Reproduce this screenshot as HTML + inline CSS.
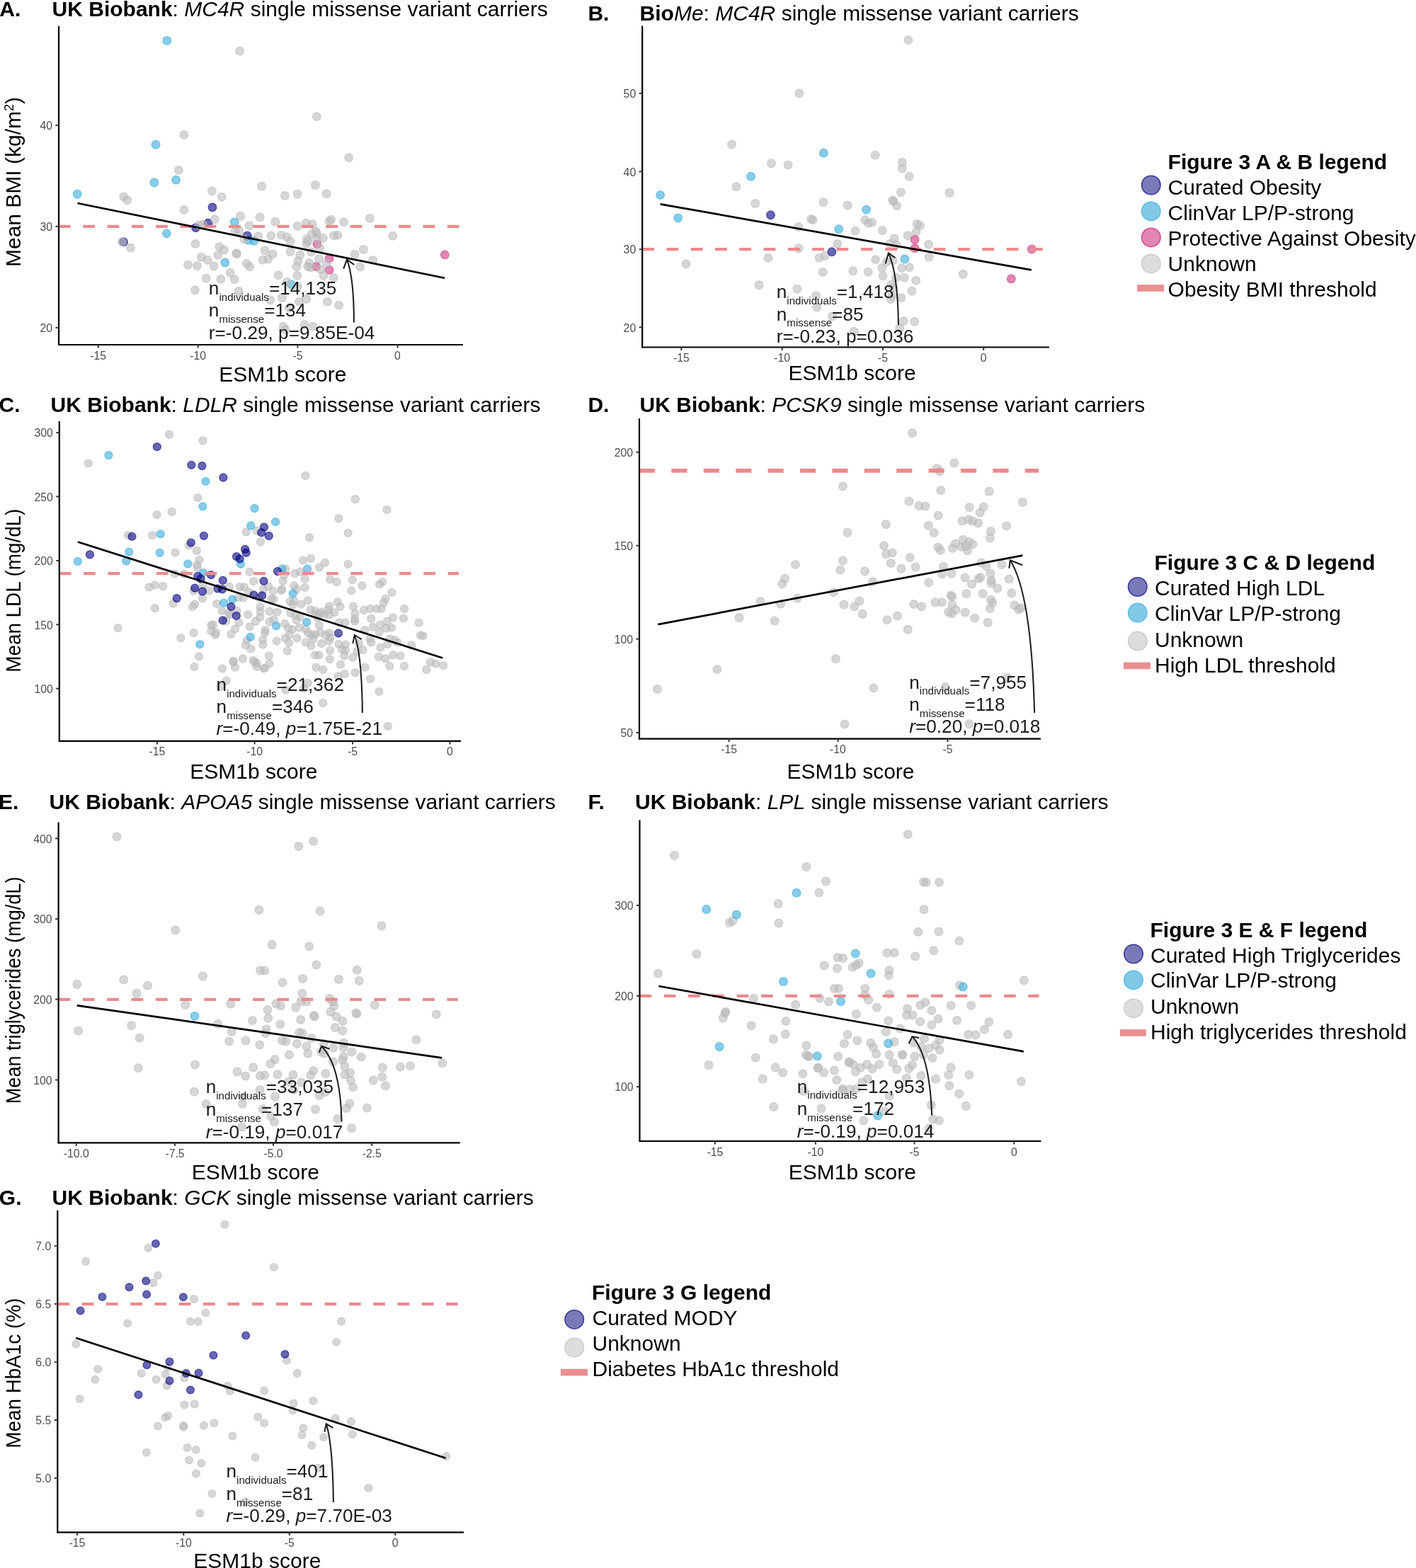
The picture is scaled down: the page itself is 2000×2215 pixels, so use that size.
<!DOCTYPE html>
<html><head><meta charset="utf-8"><title>Figure 3</title>
<style>
html,body{margin:0;padding:0;background:#fff;}
svg{display:block;}
text{font-family:'Liberation Sans', Arial, Helvetica, sans-serif;}
.u{fill:rgba(187,187,187,0.6);stroke:rgba(187,187,187,0.6);stroke-width:1.2px}
.c{fill:rgba(55,172,220,0.6);stroke:rgba(55,172,220,0.6);stroke-width:1.2px}
.n{fill:rgba(0,0,128,0.6);stroke:rgba(0,0,128,0.6);stroke-width:1.2px}
.p{fill:rgba(207,53,130,0.6);stroke:rgba(207,53,130,0.6);stroke-width:1.2px}
</style></head><body>
<svg width="2000" height="2215" viewBox="0 0 2000 2215">
<rect width="2000" height="2215" fill="#fff"/>
<text x="-0.7" y="22.6" font-size="30" font-weight="bold">A.</text>
<text x="73.6" y="22.6" font-size="30"><tspan font-weight="bold">UK Biobank</tspan>: <tspan font-style="italic">MC4R</tspan> single missense variant carriers</text>
<circle cx="628.3" cy="359.9" r="5.85" class="p"/>
<circle cx="447.9" cy="344.9" r="5.85" class="p"/>
<circle cx="465.1" cy="365.2" r="5.85" class="p"/>
<circle cx="446.6" cy="376.6" r="5.85" class="p"/>
<circle cx="465.1" cy="381.4" r="5.85" class="p"/>
<circle cx="235.8" cy="57.4" r="5.85" class="c"/>
<circle cx="220.1" cy="204.3" r="5.85" class="c"/>
<circle cx="217.8" cy="257.9" r="5.85" class="c"/>
<circle cx="248.6" cy="254.1" r="5.85" class="c"/>
<circle cx="109.2" cy="274.1" r="5.85" class="c"/>
<circle cx="235.4" cy="329.8" r="5.85" class="c"/>
<circle cx="331.4" cy="313.6" r="5.85" class="c"/>
<circle cx="351.1" cy="339.4" r="5.85" class="c"/>
<circle cx="358.8" cy="340.3" r="5.85" class="c"/>
<circle cx="317.8" cy="370.9" r="5.85" class="c"/>
<circle cx="411.4" cy="401.6" r="5.85" class="c"/>
<circle cx="300.0" cy="292.9" r="5.85" class="n"/>
<circle cx="294.0" cy="315.2" r="5.85" class="n"/>
<circle cx="276.5" cy="321.6" r="5.85" class="n"/>
<circle cx="174.5" cy="341.7" r="5.85" class="n"/>
<circle cx="349.2" cy="333.0" r="5.85" class="n"/>
<circle cx="338.5" cy="72.2" r="5.85" class="u"/>
<circle cx="259.8" cy="190.4" r="5.85" class="u"/>
<circle cx="252.3" cy="240.4" r="5.85" class="u"/>
<circle cx="174.7" cy="278.0" r="5.85" class="u"/>
<circle cx="179.7" cy="282.6" r="5.85" class="u"/>
<circle cx="260.0" cy="296.5" r="5.85" class="u"/>
<circle cx="299.3" cy="269.8" r="5.85" class="u"/>
<circle cx="313.2" cy="278.3" r="5.85" class="u"/>
<circle cx="369.6" cy="263.0" r="5.85" class="u"/>
<circle cx="303.4" cy="309.7" r="5.85" class="u"/>
<circle cx="339.7" cy="305.2" r="5.85" class="u"/>
<circle cx="367.0" cy="307.0" r="5.85" class="u"/>
<circle cx="352.0" cy="318.9" r="5.85" class="u"/>
<circle cx="280.8" cy="318.0" r="5.85" class="u"/>
<circle cx="286.5" cy="317.0" r="5.85" class="u"/>
<circle cx="332.1" cy="327.1" r="5.85" class="u"/>
<circle cx="337.8" cy="326.2" r="5.85" class="u"/>
<circle cx="364.8" cy="333.5" r="5.85" class="u"/>
<circle cx="344.7" cy="338.0" r="5.85" class="u"/>
<circle cx="172.4" cy="341.7" r="5.85" class="u"/>
<circle cx="184.5" cy="349.9" r="5.85" class="u"/>
<circle cx="276.0" cy="344.4" r="5.85" class="u"/>
<circle cx="309.8" cy="348.5" r="5.85" class="u"/>
<circle cx="316.4" cy="353.1" r="5.85" class="u"/>
<circle cx="307.7" cy="360.4" r="5.85" class="u"/>
<circle cx="334.0" cy="357.7" r="5.85" class="u"/>
<circle cx="334.4" cy="358.6" r="5.85" class="u"/>
<circle cx="284.4" cy="363.1" r="5.85" class="u"/>
<circle cx="293.1" cy="367.2" r="5.85" class="u"/>
<circle cx="265.5" cy="374.1" r="5.85" class="u"/>
<circle cx="278.5" cy="375.5" r="5.85" class="u"/>
<circle cx="302.0" cy="375.9" r="5.85" class="u"/>
<circle cx="348.3" cy="372.3" r="5.85" class="u"/>
<circle cx="352.7" cy="376.8" r="5.85" class="u"/>
<circle cx="325.3" cy="385.5" r="5.85" class="u"/>
<circle cx="331.2" cy="394.6" r="5.85" class="u"/>
<circle cx="291.1" cy="393.3" r="5.85" class="u"/>
<circle cx="311.8" cy="394.2" r="5.85" class="u"/>
<circle cx="275.5" cy="409.7" r="5.85" class="u"/>
<circle cx="337.2" cy="411.1" r="5.85" class="u"/>
<circle cx="447.2" cy="164.6" r="5.85" class="u"/>
<circle cx="492.6" cy="222.8" r="5.85" class="u"/>
<circle cx="402.4" cy="276.4" r="5.85" class="u"/>
<circle cx="420.0" cy="274.1" r="5.85" class="u"/>
<circle cx="445.3" cy="261.4" r="5.85" class="u"/>
<circle cx="461.3" cy="273.7" r="5.85" class="u"/>
<circle cx="388.8" cy="313.4" r="5.85" class="u"/>
<circle cx="382.8" cy="333.0" r="5.85" class="u"/>
<circle cx="397.0" cy="332.1" r="5.85" class="u"/>
<circle cx="374.1" cy="353.6" r="5.85" class="u"/>
<circle cx="385.1" cy="359.0" r="5.85" class="u"/>
<circle cx="371.0" cy="367.2" r="5.85" class="u"/>
<circle cx="378.7" cy="365.9" r="5.85" class="u"/>
<circle cx="393.1" cy="388.7" r="5.85" class="u"/>
<circle cx="398.3" cy="420.6" r="5.85" class="u"/>
<circle cx="381.9" cy="423.8" r="5.85" class="u"/>
<circle cx="422.5" cy="426.1" r="5.85" class="u"/>
<circle cx="432.6" cy="422.5" r="5.85" class="u"/>
<circle cx="462.5" cy="426.1" r="5.85" class="u"/>
<circle cx="478.7" cy="431.1" r="5.85" class="u"/>
<circle cx="408.4" cy="435.0" r="5.85" class="u"/>
<circle cx="400.2" cy="461.3" r="5.85" class="u"/>
<circle cx="403.4" cy="465.8" r="5.85" class="u"/>
<circle cx="429.8" cy="458.5" r="5.85" class="u"/>
<circle cx="442.1" cy="461.3" r="5.85" class="u"/>
<circle cx="420.4" cy="319.5" r="5.85" class="u"/>
<circle cx="432.5" cy="315.1" r="5.85" class="u"/>
<circle cx="441.3" cy="316.8" r="5.85" class="u"/>
<circle cx="446.2" cy="326.9" r="5.85" class="u"/>
<circle cx="440.4" cy="330.4" r="5.85" class="u"/>
<circle cx="447.5" cy="329.6" r="5.85" class="u"/>
<circle cx="456.3" cy="336.2" r="5.85" class="u"/>
<circle cx="433.4" cy="337.5" r="5.85" class="u"/>
<circle cx="435.2" cy="341.0" r="5.85" class="u"/>
<circle cx="447.5" cy="337.5" r="5.85" class="u"/>
<circle cx="432.5" cy="344.5" r="5.85" class="u"/>
<circle cx="451.9" cy="350.7" r="5.85" class="u"/>
<circle cx="439.6" cy="355.9" r="5.85" class="u"/>
<circle cx="467.7" cy="310.2" r="5.85" class="u"/>
<circle cx="465.1" cy="312.4" r="5.85" class="u"/>
<circle cx="485.7" cy="313.7" r="5.85" class="u"/>
<circle cx="522.2" cy="308.5" r="5.85" class="u"/>
<circle cx="471.6" cy="332.6" r="5.85" class="u"/>
<circle cx="476.9" cy="332.2" r="5.85" class="u"/>
<circle cx="554.7" cy="333.1" r="5.85" class="u"/>
<circle cx="405.3" cy="334.8" r="5.85" class="u"/>
<circle cx="410.1" cy="341.0" r="5.85" class="u"/>
<circle cx="410.1" cy="355.5" r="5.85" class="u"/>
<circle cx="423.7" cy="360.3" r="5.85" class="u"/>
<circle cx="421.1" cy="368.7" r="5.85" class="u"/>
<circle cx="418.9" cy="376.6" r="5.85" class="u"/>
<circle cx="419.8" cy="389.3" r="5.85" class="u"/>
<circle cx="436.9" cy="371.3" r="5.85" class="u"/>
<circle cx="434.7" cy="376.6" r="5.85" class="u"/>
<circle cx="438.7" cy="377.9" r="5.85" class="u"/>
<circle cx="450.5" cy="365.6" r="5.85" class="u"/>
<circle cx="461.5" cy="372.2" r="5.85" class="u"/>
<circle cx="452.7" cy="380.5" r="5.85" class="u"/>
<circle cx="457.1" cy="389.3" r="5.85" class="u"/>
<circle cx="471.2" cy="392.4" r="5.85" class="u"/>
<circle cx="501.1" cy="359.0" r="5.85" class="u"/>
<circle cx="513.4" cy="352.4" r="5.85" class="u"/>
<circle cx="526.6" cy="367.4" r="5.85" class="u"/>
<circle cx="508.6" cy="377.0" r="5.85" class="u"/>
<circle cx="405.3" cy="398.1" r="5.85" class="u"/>
<circle cx="420.2" cy="404.3" r="5.85" class="u"/>
<line x1="83" y1="319.9" x2="651" y2="319.9" stroke="#eb8a8c" stroke-width="4.2" stroke-dasharray="16.7 17.6" stroke-dashoffset="0"/>
<line x1="109.4" y1="287" x2="628" y2="392.7" stroke="#000" stroke-width="2.7"/>
<path d="M 499.9 455.6 Q 500 392 489.9 366.6" fill="none" stroke="#1a1a1a" stroke-width="2.0"/>
<path d="M 485.3 379.7 L 489.9 366.6 L 500.3 374" fill="none" stroke="#1a1a1a" stroke-width="2.0"/>
<line x1="83" y1="37" x2="83" y2="488" stroke="#000" stroke-width="2.2"/>
<line x1="82" y1="487" x2="654" y2="487" stroke="#000" stroke-width="2.2"/>
<line x1="78.5" y1="177" x2="83" y2="177" stroke="#333" stroke-width="2"/>
<text x="74" y="183.2" font-size="15.8" text-anchor="end" fill="#4d4d4d">40</text>
<line x1="78.5" y1="319.9" x2="83" y2="319.9" stroke="#333" stroke-width="2"/>
<text x="74" y="326.09999999999997" font-size="15.8" text-anchor="end" fill="#4d4d4d">30</text>
<line x1="78.5" y1="462.9" x2="83" y2="462.9" stroke="#333" stroke-width="2"/>
<text x="74" y="469.09999999999997" font-size="15.8" text-anchor="end" fill="#4d4d4d">20</text>
<line x1="138.7" y1="487" x2="138.7" y2="491.5" stroke="#333" stroke-width="2"/>
<text x="138.7" y="507.5" font-size="15.8" text-anchor="middle" fill="#4d4d4d">-15</text>
<line x1="279.6" y1="487" x2="279.6" y2="491.5" stroke="#333" stroke-width="2"/>
<text x="279.6" y="507.5" font-size="15.8" text-anchor="middle" fill="#4d4d4d">-10</text>
<line x1="420.4" y1="487" x2="420.4" y2="491.5" stroke="#333" stroke-width="2"/>
<text x="420.4" y="507.5" font-size="15.8" text-anchor="middle" fill="#4d4d4d">-5</text>
<line x1="561.5" y1="487" x2="561.5" y2="491.5" stroke="#333" stroke-width="2"/>
<text x="561.5" y="507.5" font-size="15.8" text-anchor="middle" fill="#4d4d4d">0</text>
<text x="399.3" y="538.8" font-size="30" text-anchor="middle">ESM1b score</text>
<text transform="translate(29.2,257) rotate(-90) scale(1.0,1)" font-size="30" text-anchor="middle">Mean BMI (kg/m<tspan dy="-10" font-size="18">2</tspan><tspan dy="10">)</tspan></text>
<text x="294.86" y="416" font-size="26.2" fill="#1a1a1a">n<tspan font-size="15.1" dy="8.8">individuals</tspan><tspan dy="-8.8">=14,135</tspan></text>
<text x="294.86" y="447.4" font-size="26.2" fill="#1a1a1a">n<tspan font-size="15.1" dy="8.8">missense</tspan><tspan dy="-8.8">=134</tspan></text>
<text x="294.86" y="478.8" font-size="26.2" fill="#1a1a1a">r=-0.29, p=9.85E-04</text>
<text x="830.4" y="29" font-size="30" font-weight="bold">B.</text>
<text x="903.6" y="29" font-size="30"><tspan font-weight="bold">Bio</tspan><tspan font-style="italic">Me</tspan>: <tspan font-style="italic">MC4R</tspan> single missense variant carriers</text>
<circle cx="1128.8" cy="131.8" r="5.85" class="u"/>
<circle cx="1033.5" cy="204.1" r="5.85" class="u"/>
<circle cx="1089.4" cy="230.8" r="5.85" class="u"/>
<circle cx="1113.1" cy="233.1" r="5.85" class="u"/>
<circle cx="1039.9" cy="263.7" r="5.85" class="u"/>
<circle cx="1066.8" cy="287.4" r="5.85" class="u"/>
<circle cx="1162.8" cy="285.6" r="5.85" class="u"/>
<circle cx="1145.7" cy="309.5" r="5.85" class="u"/>
<circle cx="1148.0" cy="310.7" r="5.85" class="u"/>
<circle cx="1127.9" cy="320.5" r="5.85" class="u"/>
<circle cx="1128.2" cy="350.6" r="5.85" class="u"/>
<circle cx="1182.7" cy="344.4" r="5.85" class="u"/>
<circle cx="1157.1" cy="364.3" r="5.85" class="u"/>
<circle cx="1165.1" cy="361.3" r="5.85" class="u"/>
<circle cx="1085.0" cy="364.3" r="5.85" class="u"/>
<circle cx="969.1" cy="372.9" r="5.85" class="u"/>
<circle cx="1162.2" cy="384.4" r="5.85" class="u"/>
<circle cx="1072.0" cy="402.6" r="5.85" class="u"/>
<circle cx="1125.9" cy="408.1" r="5.85" class="u"/>
<circle cx="1152.6" cy="417.9" r="5.85" class="u"/>
<circle cx="1153.7" cy="433.9" r="5.85" class="u"/>
<circle cx="1175.4" cy="446.9" r="5.85" class="u"/>
<circle cx="1282.9" cy="56.7" r="5.85" class="u"/>
<circle cx="1236.2" cy="219.2" r="5.85" class="u"/>
<circle cx="1274.3" cy="229.2" r="5.85" class="u"/>
<circle cx="1274.3" cy="238.1" r="5.85" class="u"/>
<circle cx="1284.3" cy="249.3" r="5.85" class="u"/>
<circle cx="1272.4" cy="271.6" r="5.85" class="u"/>
<circle cx="1341.3" cy="272.3" r="5.85" class="u"/>
<circle cx="1260.6" cy="282.8" r="5.85" class="u"/>
<circle cx="1262.2" cy="284.4" r="5.85" class="u"/>
<circle cx="1266.7" cy="290.6" r="5.85" class="u"/>
<circle cx="1197.1" cy="290.1" r="5.85" class="u"/>
<circle cx="1221.8" cy="310.7" r="5.85" class="u"/>
<circle cx="1226.3" cy="315.2" r="5.85" class="u"/>
<circle cx="1231.6" cy="314.1" r="5.85" class="u"/>
<circle cx="1246.4" cy="325.5" r="5.85" class="u"/>
<circle cx="1208.1" cy="326.2" r="5.85" class="u"/>
<circle cx="1295.2" cy="316.4" r="5.85" class="u"/>
<circle cx="1299.4" cy="318.6" r="5.85" class="u"/>
<circle cx="1293.9" cy="327.8" r="5.85" class="u"/>
<circle cx="1282.2" cy="332.8" r="5.85" class="u"/>
<circle cx="1263.1" cy="336.9" r="5.85" class="u"/>
<circle cx="1257.1" cy="344.4" r="5.85" class="u"/>
<circle cx="1266.3" cy="346.0" r="5.85" class="u"/>
<circle cx="1311.7" cy="345.3" r="5.85" class="u"/>
<circle cx="1312.1" cy="363.1" r="5.85" class="u"/>
<circle cx="1236.6" cy="366.6" r="5.85" class="u"/>
<circle cx="1252.6" cy="370.0" r="5.85" class="u"/>
<circle cx="1261.2" cy="367.7" r="5.85" class="u"/>
<circle cx="1245.7" cy="378.4" r="5.85" class="u"/>
<circle cx="1273.6" cy="378.7" r="5.85" class="u"/>
<circle cx="1284.5" cy="377.7" r="5.85" class="u"/>
<circle cx="1204.9" cy="382.8" r="5.85" class="u"/>
<circle cx="1226.3" cy="384.1" r="5.85" class="u"/>
<circle cx="1247.1" cy="389.8" r="5.85" class="u"/>
<circle cx="1265.6" cy="392.3" r="5.85" class="u"/>
<circle cx="1277.2" cy="392.3" r="5.85" class="u"/>
<circle cx="1293.7" cy="396.2" r="5.85" class="u"/>
<circle cx="1360.3" cy="387.1" r="5.85" class="u"/>
<circle cx="1259.0" cy="401.9" r="5.85" class="u"/>
<circle cx="1262.2" cy="406.5" r="5.85" class="u"/>
<circle cx="1287.9" cy="411.1" r="5.85" class="u"/>
<circle cx="1258.3" cy="422.5" r="5.85" class="u"/>
<circle cx="1273.1" cy="420.6" r="5.85" class="u"/>
<circle cx="1259.9" cy="417.9" r="5.85" class="u"/>
<circle cx="1276.5" cy="453.7" r="5.85" class="u"/>
<circle cx="1291.8" cy="454.4" r="5.85" class="u"/>
<circle cx="1270.8" cy="463.5" r="5.85" class="u"/>
<circle cx="1206.3" cy="468.1" r="5.85" class="u"/>
<circle cx="932.6" cy="275.5" r="5.85" class="c"/>
<circle cx="957.7" cy="307.9" r="5.85" class="c"/>
<circle cx="1060.6" cy="249.3" r="5.85" class="c"/>
<circle cx="1163.3" cy="216.2" r="5.85" class="c"/>
<circle cx="1184.7" cy="323.7" r="5.85" class="c"/>
<circle cx="1223.6" cy="296.1" r="5.85" class="c"/>
<circle cx="1277.9" cy="365.9" r="5.85" class="c"/>
<circle cx="1292.1" cy="338.5" r="5.85" class="p"/>
<circle cx="1292.1" cy="350.6" r="5.85" class="p"/>
<circle cx="1457.3" cy="352.0" r="5.85" class="p"/>
<circle cx="1428.3" cy="393.9" r="5.85" class="p"/>
<circle cx="1088.5" cy="303.8" r="5.85" class="n"/>
<circle cx="1174.9" cy="355.8" r="5.85" class="n"/>
<line x1="907.2" y1="352.2" x2="1479" y2="352.2" stroke="#eb8a8c" stroke-width="4.2" stroke-dasharray="16.7 17.6" stroke-dashoffset="0"/>
<line x1="932.6" y1="288.3" x2="1456.8" y2="381.4" stroke="#000" stroke-width="2.7"/>
<path d="M 1269 459 Q 1268 385 1254.9 357.4" fill="none" stroke="#1a1a1a" stroke-width="2.0"/>
<path d="M 1250.7 372.2 L 1254.9 357.4 L 1264.4 364.2" fill="none" stroke="#1a1a1a" stroke-width="2.0"/>
<line x1="907.2" y1="36.5" x2="907.2" y2="491.5" stroke="#000" stroke-width="2.2"/>
<line x1="906.2" y1="490.5" x2="1482" y2="490.5" stroke="#000" stroke-width="2.2"/>
<line x1="902.7" y1="131.9" x2="907.2" y2="131.9" stroke="#333" stroke-width="2"/>
<text x="898.2" y="138.1" font-size="15.8" text-anchor="end" fill="#4d4d4d">50</text>
<line x1="902.7" y1="242.3" x2="907.2" y2="242.3" stroke="#333" stroke-width="2"/>
<text x="898.2" y="248.5" font-size="15.8" text-anchor="end" fill="#4d4d4d">40</text>
<line x1="902.7" y1="352.2" x2="907.2" y2="352.2" stroke="#333" stroke-width="2"/>
<text x="898.2" y="358.4" font-size="15.8" text-anchor="end" fill="#4d4d4d">30</text>
<line x1="902.7" y1="462.3" x2="907.2" y2="462.3" stroke="#333" stroke-width="2"/>
<text x="898.2" y="468.5" font-size="15.8" text-anchor="end" fill="#4d4d4d">20</text>
<line x1="962.3" y1="490.5" x2="962.3" y2="495.0" stroke="#333" stroke-width="2"/>
<text x="962.3" y="511.0" font-size="15.8" text-anchor="middle" fill="#4d4d4d">-15</text>
<line x1="1104.7" y1="490.5" x2="1104.7" y2="495.0" stroke="#333" stroke-width="2"/>
<text x="1104.7" y="511.0" font-size="15.8" text-anchor="middle" fill="#4d4d4d">-10</text>
<line x1="1246.9" y1="490.5" x2="1246.9" y2="495.0" stroke="#333" stroke-width="2"/>
<text x="1246.9" y="511.0" font-size="15.8" text-anchor="middle" fill="#4d4d4d">-5</text>
<line x1="1389.2" y1="490.5" x2="1389.2" y2="495.0" stroke="#333" stroke-width="2"/>
<text x="1389.2" y="511.0" font-size="15.8" text-anchor="middle" fill="#4d4d4d">0</text>
<text x="1203.6" y="537.1" font-size="30" text-anchor="middle">ESM1b score</text>
<text x="1096.76" y="421.3" font-size="26.2" fill="#1a1a1a">n<tspan font-size="15.1" dy="8.8">individuals</tspan><tspan dy="-8.8">=1,418</tspan></text>
<text x="1096.76" y="452.6" font-size="26.2" fill="#1a1a1a">n<tspan font-size="15.1" dy="8.8">missense</tspan><tspan dy="-8.8">=85</tspan></text>
<text x="1096.76" y="483.8" font-size="26.2" fill="#1a1a1a">r=-0.23, p=0.036</text>
<text x="-1.5" y="582" font-size="30" font-weight="bold">C.</text>
<text x="71.6" y="582" font-size="30"><tspan font-weight="bold">UK Biobank</tspan>: <tspan font-style="italic">LDLR</tspan> single missense variant carriers</text>
<circle cx="238.9" cy="613.9" r="5.55" class="u"/>
<circle cx="286.4" cy="622.5" r="5.55" class="u"/>
<circle cx="124.7" cy="654.3" r="5.55" class="u"/>
<circle cx="279.3" cy="703.2" r="5.55" class="u"/>
<circle cx="221.6" cy="727.1" r="5.55" class="u"/>
<circle cx="242.7" cy="722.9" r="5.55" class="u"/>
<circle cx="180.9" cy="756.2" r="5.55" class="u"/>
<circle cx="215.0" cy="756.2" r="5.55" class="u"/>
<circle cx="247.5" cy="780.7" r="5.55" class="u"/>
<circle cx="267.0" cy="770.5" r="5.55" class="u"/>
<circle cx="277.7" cy="777.9" r="5.55" class="u"/>
<circle cx="281.5" cy="790.8" r="5.55" class="u"/>
<circle cx="278.2" cy="798.0" r="5.55" class="u"/>
<circle cx="278.5" cy="801.8" r="5.55" class="u"/>
<circle cx="246.9" cy="810.5" r="5.55" class="u"/>
<circle cx="260.0" cy="810.9" r="5.55" class="u"/>
<circle cx="347.7" cy="751.5" r="5.55" class="u"/>
<circle cx="362.6" cy="749.6" r="5.55" class="u"/>
<circle cx="368.0" cy="765.5" r="5.55" class="u"/>
<circle cx="352.4" cy="807.9" r="5.55" class="u"/>
<circle cx="431.4" cy="671.9" r="5.55" class="u"/>
<circle cx="501.8" cy="705.1" r="5.55" class="u"/>
<circle cx="546.3" cy="720.2" r="5.55" class="u"/>
<circle cx="478.4" cy="732.4" r="5.55" class="u"/>
<circle cx="491.6" cy="752.9" r="5.55" class="u"/>
<circle cx="437.0" cy="759.3" r="5.55" class="u"/>
<circle cx="428.0" cy="791.3" r="5.55" class="u"/>
<circle cx="439.0" cy="788.8" r="5.55" class="u"/>
<circle cx="458.9" cy="794.9" r="5.55" class="u"/>
<circle cx="450.9" cy="801.3" r="5.55" class="u"/>
<circle cx="491.6" cy="797.0" r="5.55" class="u"/>
<circle cx="403.2" cy="804.0" r="5.55" class="u"/>
<circle cx="416.4" cy="810.2" r="5.55" class="u"/>
<circle cx="423.7" cy="807.6" r="5.55" class="u"/>
<circle cx="401.4" cy="812.5" r="5.55" class="u"/>
<circle cx="210.6" cy="829.3" r="5.55" class="u"/>
<circle cx="218.8" cy="826.5" r="5.55" class="u"/>
<circle cx="230.0" cy="828.1" r="5.55" class="u"/>
<circle cx="218.8" cy="859.1" r="5.55" class="u"/>
<circle cx="244.7" cy="852.5" r="5.55" class="u"/>
<circle cx="273.6" cy="834.7" r="5.55" class="u"/>
<circle cx="271.9" cy="857.0" r="5.55" class="u"/>
<circle cx="275.2" cy="853.7" r="5.55" class="u"/>
<circle cx="286.1" cy="845.4" r="5.55" class="u"/>
<circle cx="295.0" cy="834.7" r="5.55" class="u"/>
<circle cx="286.7" cy="826.5" r="5.55" class="u"/>
<circle cx="298.3" cy="883.4" r="5.55" class="u"/>
<circle cx="298.3" cy="891.6" r="5.55" class="u"/>
<circle cx="273.6" cy="894.1" r="5.55" class="u"/>
<circle cx="255.4" cy="901.2" r="5.55" class="u"/>
<circle cx="281.0" cy="927.4" r="5.55" class="u"/>
<circle cx="274.4" cy="941.9" r="5.55" class="u"/>
<circle cx="313.9" cy="944.3" r="5.55" class="u"/>
<circle cx="329.6" cy="935.3" r="5.55" class="u"/>
<circle cx="332.1" cy="942.7" r="5.55" class="u"/>
<circle cx="359.3" cy="935.3" r="5.55" class="u"/>
<circle cx="362.6" cy="936.9" r="5.55" class="u"/>
<circle cx="362.6" cy="941.9" r="5.55" class="u"/>
<circle cx="372.5" cy="944.3" r="5.55" class="u"/>
<circle cx="319.7" cy="961.6" r="5.55" class="u"/>
<circle cx="311.5" cy="969.9" r="5.55" class="u"/>
<circle cx="166.4" cy="887.0" r="5.55" class="u"/>
<circle cx="380.5" cy="937.7" r="5.55" class="u"/>
<circle cx="374.2" cy="943.5" r="5.55" class="u"/>
<circle cx="481.0" cy="938.6" r="5.55" class="u"/>
<circle cx="550.3" cy="941.0" r="5.55" class="u"/>
<circle cx="570.9" cy="941.0" r="5.55" class="u"/>
<circle cx="446.4" cy="942.7" r="5.55" class="u"/>
<circle cx="456.3" cy="946.0" r="5.55" class="u"/>
<circle cx="515.6" cy="942.7" r="5.55" class="u"/>
<circle cx="501.6" cy="950.1" r="5.55" class="u"/>
<circle cx="486.8" cy="951.8" r="5.55" class="u"/>
<circle cx="477.7" cy="955.1" r="5.55" class="u"/>
<circle cx="608.0" cy="935.3" r="5.55" class="u"/>
<circle cx="615.4" cy="937.7" r="5.55" class="u"/>
<circle cx="626.1" cy="940.2" r="5.55" class="u"/>
<circle cx="602.2" cy="946.0" r="5.55" class="u"/>
<circle cx="523.1" cy="959.2" r="5.55" class="u"/>
<circle cx="535.4" cy="977.0" r="5.55" class="u"/>
<circle cx="434.9" cy="964.9" r="5.55" class="u"/>
<circle cx="403.6" cy="974.8" r="5.55" class="u"/>
<circle cx="429.1" cy="972.4" r="5.55" class="u"/>
<circle cx="456.3" cy="993.0" r="5.55" class="u"/>
<circle cx="547.8" cy="1025.9" r="5.55" class="u"/>
<circle cx="323.9" cy="828.6" r="5.55" class="u"/>
<circle cx="338.7" cy="829.0" r="5.55" class="u"/>
<circle cx="344.9" cy="829.4" r="5.55" class="u"/>
<circle cx="358.1" cy="821.2" r="5.55" class="u"/>
<circle cx="379.1" cy="828.2" r="5.55" class="u"/>
<circle cx="371.7" cy="833.1" r="5.55" class="u"/>
<circle cx="385.7" cy="834.8" r="5.55" class="u"/>
<circle cx="398.1" cy="832.3" r="5.55" class="u"/>
<circle cx="399.7" cy="820.8" r="5.55" class="u"/>
<circle cx="415.4" cy="827.4" r="5.55" class="u"/>
<circle cx="418.7" cy="832.3" r="5.55" class="u"/>
<circle cx="430.6" cy="829.8" r="5.55" class="u"/>
<circle cx="430.6" cy="817.5" r="5.55" class="u"/>
<circle cx="397.3" cy="834.0" r="5.55" class="u"/>
<circle cx="336.7" cy="844.3" r="5.55" class="u"/>
<circle cx="343.7" cy="844.7" r="5.55" class="u"/>
<circle cx="351.1" cy="836.4" r="5.55" class="u"/>
<circle cx="365.9" cy="844.7" r="5.55" class="u"/>
<circle cx="386.5" cy="846.3" r="5.55" class="u"/>
<circle cx="383.2" cy="845.9" r="5.55" class="u"/>
<circle cx="306.2" cy="852.9" r="5.55" class="u"/>
<circle cx="313.6" cy="862.8" r="5.55" class="u"/>
<circle cx="323.1" cy="866.1" r="5.55" class="u"/>
<circle cx="334.6" cy="862.8" r="5.55" class="u"/>
<circle cx="324.7" cy="868.6" r="5.55" class="u"/>
<circle cx="319.0" cy="877.6" r="5.55" class="u"/>
<circle cx="337.5" cy="879.3" r="5.55" class="u"/>
<circle cx="350.3" cy="868.2" r="5.55" class="u"/>
<circle cx="367.6" cy="857.0" r="5.55" class="u"/>
<circle cx="367.6" cy="863.6" r="5.55" class="u"/>
<circle cx="367.2" cy="871.9" r="5.55" class="u"/>
<circle cx="361.0" cy="877.6" r="5.55" class="u"/>
<circle cx="352.7" cy="885.1" r="5.55" class="u"/>
<circle cx="380.8" cy="863.6" r="5.55" class="u"/>
<circle cx="391.5" cy="864.5" r="5.55" class="u"/>
<circle cx="386.5" cy="875.2" r="5.55" class="u"/>
<circle cx="380.8" cy="878.5" r="5.55" class="u"/>
<circle cx="409.6" cy="849.6" r="5.55" class="u"/>
<circle cx="415.4" cy="848.8" r="5.55" class="u"/>
<circle cx="413.7" cy="854.6" r="5.55" class="u"/>
<circle cx="425.3" cy="853.7" r="5.55" class="u"/>
<circle cx="434.8" cy="848.4" r="5.55" class="u"/>
<circle cx="410.4" cy="866.1" r="5.55" class="u"/>
<circle cx="417.0" cy="869.4" r="5.55" class="u"/>
<circle cx="418.7" cy="876.0" r="5.55" class="u"/>
<circle cx="423.6" cy="871.0" r="5.55" class="u"/>
<circle cx="438.5" cy="861.2" r="5.55" class="u"/>
<circle cx="445.1" cy="862.8" r="5.55" class="u"/>
<circle cx="445.1" cy="867.7" r="5.55" class="u"/>
<circle cx="448.4" cy="872.7" r="5.55" class="u"/>
<circle cx="402.2" cy="880.9" r="5.55" class="u"/>
<circle cx="407.1" cy="887.5" r="5.55" class="u"/>
<circle cx="412.9" cy="889.2" r="5.55" class="u"/>
<circle cx="422.8" cy="886.7" r="5.55" class="u"/>
<circle cx="431.9" cy="889.2" r="5.55" class="u"/>
<circle cx="435.2" cy="894.1" r="5.55" class="u"/>
<circle cx="440.1" cy="897.4" r="5.55" class="u"/>
<circle cx="445.1" cy="895.8" r="5.55" class="u"/>
<circle cx="300.8" cy="882.6" r="5.55" class="u"/>
<circle cx="304.1" cy="896.6" r="5.55" class="u"/>
<circle cx="304.9" cy="893.3" r="5.55" class="u"/>
<circle cx="332.1" cy="888.4" r="5.55" class="u"/>
<circle cx="326.4" cy="895.8" r="5.55" class="u"/>
<circle cx="374.6" cy="890.0" r="5.55" class="u"/>
<circle cx="374.2" cy="894.1" r="5.55" class="u"/>
<circle cx="370.9" cy="904.0" r="5.55" class="u"/>
<circle cx="371.3" cy="910.6" r="5.55" class="u"/>
<circle cx="390.7" cy="905.7" r="5.55" class="u"/>
<circle cx="403.0" cy="901.5" r="5.55" class="u"/>
<circle cx="408.0" cy="908.1" r="5.55" class="u"/>
<circle cx="419.5" cy="901.5" r="5.55" class="u"/>
<circle cx="408.8" cy="896.6" r="5.55" class="u"/>
<circle cx="347.0" cy="911.4" r="5.55" class="u"/>
<circle cx="354.4" cy="916.4" r="5.55" class="u"/>
<circle cx="348.6" cy="904.8" r="5.55" class="u"/>
<circle cx="431.9" cy="907.3" r="5.55" class="u"/>
<circle cx="439.3" cy="912.3" r="5.55" class="u"/>
<circle cx="442.6" cy="902.4" r="5.55" class="u"/>
<circle cx="405.9" cy="919.7" r="5.55" class="u"/>
<circle cx="379.9" cy="926.3" r="5.55" class="u"/>
<circle cx="445.1" cy="925.4" r="5.55" class="u"/>
<circle cx="342.9" cy="930.4" r="5.55" class="u"/>
<circle cx="329.7" cy="933.7" r="5.55" class="u"/>
<circle cx="357.7" cy="932.9" r="5.55" class="u"/>
<circle cx="466.1" cy="818.3" r="5.55" class="u"/>
<circle cx="475.5" cy="822.0" r="5.55" class="u"/>
<circle cx="497.8" cy="819.1" r="5.55" class="u"/>
<circle cx="511.4" cy="827.4" r="5.55" class="u"/>
<circle cx="496.2" cy="834.4" r="5.55" class="u"/>
<circle cx="536.1" cy="825.3" r="5.55" class="u"/>
<circle cx="540.2" cy="822.0" r="5.55" class="u"/>
<circle cx="553.4" cy="836.8" r="5.55" class="u"/>
<circle cx="544.4" cy="845.9" r="5.55" class="u"/>
<circle cx="541.9" cy="851.3" r="5.55" class="u"/>
<circle cx="538.6" cy="859.9" r="5.55" class="u"/>
<circle cx="532.0" cy="859.9" r="5.55" class="u"/>
<circle cx="522.9" cy="859.9" r="5.55" class="u"/>
<circle cx="513.9" cy="862.0" r="5.55" class="u"/>
<circle cx="499.0" cy="856.6" r="5.55" class="u"/>
<circle cx="501.5" cy="866.5" r="5.55" class="u"/>
<circle cx="501.1" cy="874.3" r="5.55" class="u"/>
<circle cx="501.1" cy="877.6" r="5.55" class="u"/>
<circle cx="476.8" cy="850.4" r="5.55" class="u"/>
<circle cx="480.5" cy="857.0" r="5.55" class="u"/>
<circle cx="465.2" cy="856.2" r="5.55" class="u"/>
<circle cx="463.6" cy="861.2" r="5.55" class="u"/>
<circle cx="472.3" cy="865.3" r="5.55" class="u"/>
<circle cx="454.1" cy="864.5" r="5.55" class="u"/>
<circle cx="450.8" cy="867.7" r="5.55" class="u"/>
<circle cx="458.2" cy="867.7" r="5.55" class="u"/>
<circle cx="464.8" cy="868.6" r="5.55" class="u"/>
<circle cx="571.2" cy="859.9" r="5.55" class="u"/>
<circle cx="569.9" cy="873.5" r="5.55" class="u"/>
<circle cx="555.1" cy="872.3" r="5.55" class="u"/>
<circle cx="524.2" cy="873.9" r="5.55" class="u"/>
<circle cx="546.8" cy="877.6" r="5.55" class="u"/>
<circle cx="537.0" cy="882.6" r="5.55" class="u"/>
<circle cx="526.6" cy="885.9" r="5.55" class="u"/>
<circle cx="545.6" cy="887.5" r="5.55" class="u"/>
<circle cx="553.0" cy="886.7" r="5.55" class="u"/>
<circle cx="535.7" cy="892.9" r="5.55" class="u"/>
<circle cx="515.1" cy="890.4" r="5.55" class="u"/>
<circle cx="487.5" cy="879.3" r="5.55" class="u"/>
<circle cx="478.8" cy="879.3" r="5.55" class="u"/>
<circle cx="591.8" cy="879.7" r="5.55" class="u"/>
<circle cx="593.8" cy="897.4" r="5.55" class="u"/>
<circle cx="597.5" cy="898.2" r="5.55" class="u"/>
<circle cx="581.5" cy="911.4" r="5.55" class="u"/>
<circle cx="561.3" cy="907.3" r="5.55" class="u"/>
<circle cx="557.1" cy="904.0" r="5.55" class="u"/>
<circle cx="550.5" cy="902.4" r="5.55" class="u"/>
<circle cx="547.3" cy="909.8" r="5.55" class="u"/>
<circle cx="537.4" cy="914.7" r="5.55" class="u"/>
<circle cx="524.2" cy="907.3" r="5.55" class="u"/>
<circle cx="522.5" cy="902.4" r="5.55" class="u"/>
<circle cx="506.9" cy="909.0" r="5.55" class="u"/>
<circle cx="512.6" cy="918.0" r="5.55" class="u"/>
<circle cx="504.4" cy="920.5" r="5.55" class="u"/>
<circle cx="450.8" cy="883.4" r="5.55" class="u"/>
<circle cx="452.5" cy="893.3" r="5.55" class="u"/>
<circle cx="464.8" cy="894.1" r="5.55" class="u"/>
<circle cx="459.9" cy="897.4" r="5.55" class="u"/>
<circle cx="466.5" cy="900.7" r="5.55" class="u"/>
<circle cx="454.1" cy="909.0" r="5.55" class="u"/>
<circle cx="464.8" cy="905.7" r="5.55" class="u"/>
<circle cx="478.4" cy="909.8" r="5.55" class="u"/>
<circle cx="487.9" cy="910.6" r="5.55" class="u"/>
<circle cx="483.0" cy="917.2" r="5.55" class="u"/>
<circle cx="487.9" cy="918.8" r="5.55" class="u"/>
<circle cx="466.1" cy="918.8" r="5.55" class="u"/>
<circle cx="465.7" cy="931.2" r="5.55" class="u"/>
<circle cx="486.3" cy="926.3" r="5.55" class="u"/>
<circle cx="498.6" cy="928.7" r="5.55" class="u"/>
<circle cx="534.9" cy="927.9" r="5.55" class="u"/>
<circle cx="544.4" cy="930.4" r="5.55" class="u"/>
<circle cx="555.1" cy="925.4" r="5.55" class="u"/>
<circle cx="565.4" cy="926.3" r="5.55" class="u"/>
<circle cx="450.4" cy="925.4" r="5.55" class="u"/>
<circle cx="153.4" cy="643.1" r="5.55" class="c"/>
<circle cx="290.5" cy="679.8" r="5.55" class="c"/>
<circle cx="286.4" cy="715.3" r="5.55" class="c"/>
<circle cx="359.6" cy="718.1" r="5.55" class="c"/>
<circle cx="354.3" cy="742.5" r="5.55" class="c"/>
<circle cx="109.9" cy="793.1" r="5.55" class="c"/>
<circle cx="182.2" cy="779.6" r="5.55" class="c"/>
<circle cx="178.3" cy="792.7" r="5.55" class="c"/>
<circle cx="226.7" cy="754.3" r="5.55" class="c"/>
<circle cx="225.6" cy="780.9" r="5.55" class="c"/>
<circle cx="265.3" cy="796.5" r="5.55" class="c"/>
<circle cx="287.1" cy="809.2" r="5.55" class="c"/>
<circle cx="340.0" cy="796.9" r="5.55" class="c"/>
<circle cx="389.1" cy="737.2" r="5.55" class="c"/>
<circle cx="398.6" cy="803.5" r="5.55" class="c"/>
<circle cx="434.1" cy="803.5" r="5.55" class="c"/>
<circle cx="282.3" cy="910.2" r="5.55" class="c"/>
<circle cx="328.0" cy="846.7" r="5.55" class="c"/>
<circle cx="316.1" cy="851.7" r="5.55" class="c"/>
<circle cx="413.7" cy="838.5" r="5.55" class="c"/>
<circle cx="433.1" cy="878.9" r="5.55" class="c"/>
<circle cx="390.2" cy="884.2" r="5.55" class="c"/>
<circle cx="353.6" cy="899.9" r="5.55" class="c"/>
<circle cx="221.8" cy="631.2" r="5.55" class="n"/>
<circle cx="270.3" cy="656.8" r="5.55" class="n"/>
<circle cx="285.4" cy="658.1" r="5.55" class="n"/>
<circle cx="315.3" cy="674.6" r="5.55" class="n"/>
<circle cx="186.5" cy="757.8" r="5.55" class="n"/>
<circle cx="126.9" cy="783.4" r="5.55" class="n"/>
<circle cx="269.8" cy="766.7" r="5.55" class="n"/>
<circle cx="287.9" cy="756.8" r="5.55" class="n"/>
<circle cx="346.1" cy="775.8" r="5.55" class="n"/>
<circle cx="347.7" cy="780.9" r="5.55" class="n"/>
<circle cx="334.1" cy="786.2" r="5.55" class="n"/>
<circle cx="338.7" cy="789.5" r="5.55" class="n"/>
<circle cx="373.0" cy="744.6" r="5.55" class="n"/>
<circle cx="369.2" cy="752.4" r="5.55" class="n"/>
<circle cx="279.3" cy="813.8" r="5.55" class="n"/>
<circle cx="283.5" cy="817.5" r="5.55" class="n"/>
<circle cx="298.0" cy="812.2" r="5.55" class="n"/>
<circle cx="379.8" cy="757.0" r="5.55" class="n"/>
<circle cx="392.0" cy="807.1" r="5.55" class="n"/>
<circle cx="249.7" cy="845.1" r="5.55" class="n"/>
<circle cx="275.2" cy="830.6" r="5.55" class="n"/>
<circle cx="285.9" cy="835.5" r="5.55" class="n"/>
<circle cx="314.8" cy="819.9" r="5.55" class="n"/>
<circle cx="307.4" cy="831.5" r="5.55" class="n"/>
<circle cx="314.0" cy="832.3" r="5.55" class="n"/>
<circle cx="372.5" cy="820.8" r="5.55" class="n"/>
<circle cx="358.5" cy="840.5" r="5.55" class="n"/>
<circle cx="370.1" cy="841.4" r="5.55" class="n"/>
<circle cx="326.4" cy="857.0" r="5.55" class="n"/>
<circle cx="333.8" cy="869.8" r="5.55" class="n"/>
<circle cx="314.7" cy="876.4" r="5.55" class="n"/>
<circle cx="478.0" cy="894.5" r="5.55" class="n"/>
<line x1="83.8" y1="810.2" x2="648" y2="810.2" stroke="#eb8a8c" stroke-width="4.2" stroke-dasharray="16.7 17.6" stroke-dashoffset="0"/>
<line x1="109.9" y1="765.5" x2="625.2" y2="929.5" stroke="#000" stroke-width="2.7"/>
<path d="M 511.9 1007 Q 511 925 500.8 897" fill="none" stroke="#1a1a1a" stroke-width="2.0"/>
<path d="M 498.3 908.9 L 500.8 897 L 510.7 903.1" fill="none" stroke="#1a1a1a" stroke-width="2.0"/>
<line x1="83.8" y1="595" x2="83.8" y2="1047.9" stroke="#000" stroke-width="2.2"/>
<line x1="82.8" y1="1046.9" x2="651" y2="1046.9" stroke="#000" stroke-width="2.2"/>
<line x1="79.3" y1="611.2" x2="83.8" y2="611.2" stroke="#333" stroke-width="2"/>
<text x="74.8" y="617.4000000000001" font-size="15.8" text-anchor="end" fill="#4d4d4d">300</text>
<line x1="79.3" y1="701.5" x2="83.8" y2="701.5" stroke="#333" stroke-width="2"/>
<text x="74.8" y="707.7" font-size="15.8" text-anchor="end" fill="#4d4d4d">250</text>
<line x1="79.3" y1="792" x2="83.8" y2="792" stroke="#333" stroke-width="2"/>
<text x="74.8" y="798.2" font-size="15.8" text-anchor="end" fill="#4d4d4d">200</text>
<line x1="79.3" y1="882.3" x2="83.8" y2="882.3" stroke="#333" stroke-width="2"/>
<text x="74.8" y="888.5" font-size="15.8" text-anchor="end" fill="#4d4d4d">150</text>
<line x1="79.3" y1="972.7" x2="83.8" y2="972.7" stroke="#333" stroke-width="2"/>
<text x="74.8" y="978.9000000000001" font-size="15.8" text-anchor="end" fill="#4d4d4d">100</text>
<line x1="222" y1="1046.9" x2="222" y2="1051.4" stroke="#333" stroke-width="2"/>
<text x="222" y="1067.4" font-size="15.8" text-anchor="middle" fill="#4d4d4d">-15</text>
<line x1="359.6" y1="1046.9" x2="359.6" y2="1051.4" stroke="#333" stroke-width="2"/>
<text x="359.6" y="1067.4" font-size="15.8" text-anchor="middle" fill="#4d4d4d">-10</text>
<line x1="498" y1="1046.9" x2="498" y2="1051.4" stroke="#333" stroke-width="2"/>
<text x="498" y="1067.4" font-size="15.8" text-anchor="middle" fill="#4d4d4d">-5</text>
<line x1="635.4" y1="1046.9" x2="635.4" y2="1051.4" stroke="#333" stroke-width="2"/>
<text x="635.4" y="1067.4" font-size="15.8" text-anchor="middle" fill="#4d4d4d">0</text>
<text x="358.3" y="1099.5" font-size="30" text-anchor="middle">ESM1b score</text>
<text transform="translate(28.8,834.2) rotate(-90) scale(0.929,1)" font-size="30" text-anchor="middle">Mean LDL (mg/dL)</text>
<text x="305.56" y="975.8" font-size="26.2" fill="#1a1a1a">n<tspan font-size="15.1" dy="8.8">individuals</tspan><tspan dy="-8.8">=21,362</tspan></text>
<text x="305.56" y="1007.0" font-size="26.2" fill="#1a1a1a">n<tspan font-size="15.1" dy="8.8">missense</tspan><tspan dy="-8.8">=346</tspan></text>
<text x="305.56" y="1038.3" font-size="26.2" fill="#1a1a1a"><tspan font-style="italic">r</tspan>=-0.49, <tspan font-style="italic">p</tspan>=1.75E-21</text>
<text x="830.4" y="581.6" font-size="30" font-weight="bold">D.</text>
<text x="903.6" y="581.6" font-size="30"><tspan font-weight="bold">UK Biobank</tspan>: <tspan font-style="italic">PCSK9</tspan> single missense variant carriers</text>
<circle cx="1186.8" cy="805.2" r="5.9" class="u"/>
<circle cx="1123.4" cy="797.4" r="5.9" class="u"/>
<circle cx="1108.6" cy="817.3" r="5.9" class="u"/>
<circle cx="1104.9" cy="825.0" r="5.9" class="u"/>
<circle cx="1073.9" cy="849.7" r="5.9" class="u"/>
<circle cx="1102.6" cy="853.1" r="5.9" class="u"/>
<circle cx="1126.3" cy="845.1" r="5.9" class="u"/>
<circle cx="1044.0" cy="872.5" r="5.9" class="u"/>
<circle cx="1094.2" cy="877.1" r="5.9" class="u"/>
<circle cx="1177.5" cy="836.7" r="5.9" class="u"/>
<circle cx="1180.4" cy="930.7" r="5.9" class="u"/>
<circle cx="1012.9" cy="945.7" r="5.9" class="u"/>
<circle cx="928.5" cy="973.4" r="5.9" class="u"/>
<circle cx="1288.6" cy="611.7" r="5.9" class="u"/>
<circle cx="1347.7" cy="654.1" r="5.9" class="u"/>
<circle cx="1323.3" cy="661.4" r="5.9" class="u"/>
<circle cx="1327.2" cy="666.0" r="5.9" class="u"/>
<circle cx="1190.5" cy="686.8" r="5.9" class="u"/>
<circle cx="1328.8" cy="692.7" r="5.9" class="u"/>
<circle cx="1397.2" cy="694.1" r="5.9" class="u"/>
<circle cx="1283.8" cy="708.2" r="5.9" class="u"/>
<circle cx="1298.0" cy="714.6" r="5.9" class="u"/>
<circle cx="1306.9" cy="715.1" r="5.9" class="u"/>
<circle cx="1444.5" cy="709.4" r="5.9" class="u"/>
<circle cx="1369.2" cy="716.7" r="5.9" class="u"/>
<circle cx="1389.2" cy="716.0" r="5.9" class="u"/>
<circle cx="1384.2" cy="724.2" r="5.9" class="u"/>
<circle cx="1325.1" cy="728.1" r="5.9" class="u"/>
<circle cx="1358.9" cy="736.1" r="5.9" class="u"/>
<circle cx="1368.0" cy="733.8" r="5.9" class="u"/>
<circle cx="1373.5" cy="736.1" r="5.9" class="u"/>
<circle cx="1381.5" cy="739.0" r="5.9" class="u"/>
<circle cx="1251.4" cy="740.8" r="5.9" class="u"/>
<circle cx="1311.4" cy="742.4" r="5.9" class="u"/>
<circle cx="1319.2" cy="752.7" r="5.9" class="u"/>
<circle cx="1421.6" cy="742.9" r="5.9" class="u"/>
<circle cx="1197.1" cy="752.3" r="5.9" class="u"/>
<circle cx="1399.5" cy="750.4" r="5.9" class="u"/>
<circle cx="1398.4" cy="760.0" r="5.9" class="u"/>
<circle cx="1248.5" cy="771.0" r="5.9" class="u"/>
<circle cx="1360.3" cy="762.5" r="5.9" class="u"/>
<circle cx="1368.5" cy="765.3" r="5.9" class="u"/>
<circle cx="1373.9" cy="768.7" r="5.9" class="u"/>
<circle cx="1349.3" cy="768.2" r="5.9" class="u"/>
<circle cx="1345.4" cy="774.4" r="5.9" class="u"/>
<circle cx="1358.0" cy="772.6" r="5.9" class="u"/>
<circle cx="1364.4" cy="771.6" r="5.9" class="u"/>
<circle cx="1366.6" cy="777.8" r="5.9" class="u"/>
<circle cx="1324.9" cy="773.2" r="5.9" class="u"/>
<circle cx="1328.3" cy="777.4" r="5.9" class="u"/>
<circle cx="1190.5" cy="792.0" r="5.9" class="u"/>
<circle cx="1251.6" cy="782.6" r="5.9" class="u"/>
<circle cx="1260.3" cy="780.8" r="5.9" class="u"/>
<circle cx="1258.3" cy="795.4" r="5.9" class="u"/>
<circle cx="1285.4" cy="787.6" r="5.9" class="u"/>
<circle cx="1293.2" cy="801.1" r="5.9" class="u"/>
<circle cx="1272.9" cy="803.4" r="5.9" class="u"/>
<circle cx="1221.5" cy="806.8" r="5.9" class="u"/>
<circle cx="1232.5" cy="821.6" r="5.9" class="u"/>
<circle cx="1332.4" cy="800.6" r="5.9" class="u"/>
<circle cx="1330.6" cy="810.9" r="5.9" class="u"/>
<circle cx="1343.8" cy="810.4" r="5.9" class="u"/>
<circle cx="1311.7" cy="823.0" r="5.9" class="u"/>
<circle cx="1386.0" cy="794.9" r="5.9" class="u"/>
<circle cx="1392.9" cy="799.9" r="5.9" class="u"/>
<circle cx="1399.0" cy="810.4" r="5.9" class="u"/>
<circle cx="1414.8" cy="797.7" r="5.9" class="u"/>
<circle cx="1363.0" cy="816.1" r="5.9" class="u"/>
<circle cx="1381.9" cy="817.3" r="5.9" class="u"/>
<circle cx="1384.9" cy="815.5" r="5.9" class="u"/>
<circle cx="1372.4" cy="825.0" r="5.9" class="u"/>
<circle cx="1400.2" cy="820.0" r="5.9" class="u"/>
<circle cx="1400.2" cy="824.1" r="5.9" class="u"/>
<circle cx="1408.9" cy="831.0" r="5.9" class="u"/>
<circle cx="1425.5" cy="818.0" r="5.9" class="u"/>
<circle cx="1428.7" cy="837.8" r="5.9" class="u"/>
<circle cx="1191.9" cy="854.2" r="5.9" class="u"/>
<circle cx="1206.7" cy="857.0" r="5.9" class="u"/>
<circle cx="1213.8" cy="849.2" r="5.9" class="u"/>
<circle cx="1218.3" cy="867.3" r="5.9" class="u"/>
<circle cx="1290.7" cy="853.6" r="5.9" class="u"/>
<circle cx="1301.6" cy="857.0" r="5.9" class="u"/>
<circle cx="1321.0" cy="850.8" r="5.9" class="u"/>
<circle cx="1330.4" cy="850.8" r="5.9" class="u"/>
<circle cx="1343.1" cy="841.0" r="5.9" class="u"/>
<circle cx="1344.7" cy="842.8" r="5.9" class="u"/>
<circle cx="1345.0" cy="854.2" r="5.9" class="u"/>
<circle cx="1364.8" cy="838.7" r="5.9" class="u"/>
<circle cx="1388.3" cy="838.5" r="5.9" class="u"/>
<circle cx="1399.5" cy="847.4" r="5.9" class="u"/>
<circle cx="1401.8" cy="851.5" r="5.9" class="u"/>
<circle cx="1398.4" cy="859.5" r="5.9" class="u"/>
<circle cx="1432.8" cy="854.9" r="5.9" class="u"/>
<circle cx="1438.5" cy="861.1" r="5.9" class="u"/>
<circle cx="1441.9" cy="858.8" r="5.9" class="u"/>
<circle cx="1339.7" cy="864.5" r="5.9" class="u"/>
<circle cx="1344.3" cy="866.8" r="5.9" class="u"/>
<circle cx="1350.0" cy="861.5" r="5.9" class="u"/>
<circle cx="1363.2" cy="865.2" r="5.9" class="u"/>
<circle cx="1376.7" cy="873.2" r="5.9" class="u"/>
<circle cx="1395.2" cy="879.3" r="5.9" class="u"/>
<circle cx="1267.6" cy="870.2" r="5.9" class="u"/>
<circle cx="1253.0" cy="875.7" r="5.9" class="u"/>
<circle cx="1282.2" cy="889.2" r="5.9" class="u"/>
<circle cx="1233.8" cy="971.8" r="5.9" class="u"/>
<circle cx="1335.2" cy="970.6" r="5.9" class="u"/>
<circle cx="1423.0" cy="957.4" r="5.9" class="u"/>
<circle cx="1193.0" cy="1023.1" r="5.9" class="u"/>
<circle cx="1368.9" cy="1022.6" r="5.9" class="u"/>
<line x1="903" y1="664.9" x2="1467" y2="664.9" stroke="#eb8a8c" stroke-width="5.6" stroke-dasharray="22.1 23.3" stroke-dashoffset="0"/>
<line x1="929.2" y1="882.1" x2="1444.4" y2="784.6" stroke="#000" stroke-width="2.7"/>
<path d="M 1461.1 1007.1 Q 1457 840 1426.9 791.5" fill="none" stroke="#1a1a1a" stroke-width="2.0"/>
<path d="M 1425.3 802.9 L 1426.9 791.5 L 1444 798.3" fill="none" stroke="#1a1a1a" stroke-width="2.0"/>
<line x1="903" y1="591" x2="903" y2="1044.6" stroke="#000" stroke-width="2.2"/>
<line x1="902" y1="1043.6" x2="1470" y2="1043.6" stroke="#000" stroke-width="2.2"/>
<line x1="898.5" y1="638.8" x2="903" y2="638.8" stroke="#333" stroke-width="2"/>
<text x="894" y="645.0" font-size="15.8" text-anchor="end" fill="#4d4d4d">200</text>
<line x1="898.5" y1="770.8" x2="903" y2="770.8" stroke="#333" stroke-width="2"/>
<text x="894" y="777.0" font-size="15.8" text-anchor="end" fill="#4d4d4d">150</text>
<line x1="898.5" y1="902.7" x2="903" y2="902.7" stroke="#333" stroke-width="2"/>
<text x="894" y="908.9000000000001" font-size="15.8" text-anchor="end" fill="#4d4d4d">100</text>
<line x1="898.5" y1="1035" x2="903" y2="1035" stroke="#333" stroke-width="2"/>
<text x="894" y="1041.2" font-size="15.8" text-anchor="end" fill="#4d4d4d">50</text>
<line x1="1029.6" y1="1043.6" x2="1029.6" y2="1048.1" stroke="#333" stroke-width="2"/>
<text x="1029.6" y="1064.1" font-size="15.8" text-anchor="middle" fill="#4d4d4d">-15</text>
<line x1="1183.5" y1="1043.6" x2="1183.5" y2="1048.1" stroke="#333" stroke-width="2"/>
<text x="1183.5" y="1064.1" font-size="15.8" text-anchor="middle" fill="#4d4d4d">-10</text>
<line x1="1338.5" y1="1043.6" x2="1338.5" y2="1048.1" stroke="#333" stroke-width="2"/>
<text x="1338.5" y="1064.1" font-size="15.8" text-anchor="middle" fill="#4d4d4d">-5</text>
<text x="1201.5" y="1099.5" font-size="30" text-anchor="middle">ESM1b score</text>
<text x="1284.26" y="972.5" font-size="26.2" fill="#1a1a1a">n<tspan font-size="15.1" dy="8.8">individuals</tspan><tspan dy="-8.8">=7,955</tspan></text>
<text x="1284.26" y="1004.0" font-size="26.2" fill="#1a1a1a">n<tspan font-size="15.1" dy="8.8">missense</tspan><tspan dy="-8.8">=118</tspan></text>
<text x="1284.26" y="1035.4" font-size="26.2" fill="#1a1a1a"><tspan font-style="italic">r</tspan>=0.20, <tspan font-style="italic">p</tspan>=0.018</text>
<text x="-2" y="1143" font-size="30" font-weight="bold">E.</text>
<text x="69.6" y="1143" font-size="30"><tspan font-weight="bold">UK Biobank</tspan>: <tspan font-style="italic">APOA5</tspan> single missense variant carriers</text>
<circle cx="164.9" cy="1181.9" r="5.9" class="u"/>
<circle cx="365.9" cy="1285.3" r="5.9" class="u"/>
<circle cx="247.7" cy="1314.0" r="5.9" class="u"/>
<circle cx="367.5" cy="1370.9" r="5.9" class="u"/>
<circle cx="286.5" cy="1379.1" r="5.9" class="u"/>
<circle cx="108.8" cy="1390.5" r="5.9" class="u"/>
<circle cx="174.7" cy="1383.9" r="5.9" class="u"/>
<circle cx="208.5" cy="1392.3" r="5.9" class="u"/>
<circle cx="193.2" cy="1403.3" r="5.9" class="u"/>
<circle cx="261.9" cy="1419.7" r="5.9" class="u"/>
<circle cx="325.7" cy="1418.1" r="5.9" class="u"/>
<circle cx="110.6" cy="1456.2" r="5.9" class="u"/>
<circle cx="185.6" cy="1448.7" r="5.9" class="u"/>
<circle cx="197.1" cy="1466.2" r="5.9" class="u"/>
<circle cx="307.7" cy="1446.6" r="5.9" class="u"/>
<circle cx="327.1" cy="1457.3" r="5.9" class="u"/>
<circle cx="323.7" cy="1471.0" r="5.9" class="u"/>
<circle cx="347.0" cy="1470.1" r="5.9" class="u"/>
<circle cx="356.5" cy="1441.6" r="5.9" class="u"/>
<circle cx="366.8" cy="1476.0" r="5.9" class="u"/>
<circle cx="275.5" cy="1504.1" r="5.9" class="u"/>
<circle cx="195.2" cy="1508.7" r="5.9" class="u"/>
<circle cx="335.1" cy="1513.9" r="5.9" class="u"/>
<circle cx="346.5" cy="1520.1" r="5.9" class="u"/>
<circle cx="357.7" cy="1507.8" r="5.9" class="u"/>
<circle cx="367.5" cy="1519.6" r="5.9" class="u"/>
<circle cx="274.4" cy="1542.2" r="5.9" class="u"/>
<circle cx="367.0" cy="1539.5" r="5.9" class="u"/>
<circle cx="291.1" cy="1559.6" r="5.9" class="u"/>
<circle cx="342.4" cy="1559.3" r="5.9" class="u"/>
<circle cx="343.5" cy="1549.7" r="5.9" class="u"/>
<circle cx="341.7" cy="1592.0" r="5.9" class="u"/>
<circle cx="421.8" cy="1195.4" r="5.9" class="u"/>
<circle cx="442.6" cy="1188.3" r="5.9" class="u"/>
<circle cx="452.2" cy="1286.9" r="5.9" class="u"/>
<circle cx="538.9" cy="1307.9" r="5.9" class="u"/>
<circle cx="384.2" cy="1334.6" r="5.9" class="u"/>
<circle cx="436.7" cy="1336.9" r="5.9" class="u"/>
<circle cx="446.9" cy="1363.1" r="5.9" class="u"/>
<circle cx="373.7" cy="1371.1" r="5.9" class="u"/>
<circle cx="504.2" cy="1370.2" r="5.9" class="u"/>
<circle cx="507.2" cy="1385.5" r="5.9" class="u"/>
<circle cx="478.4" cy="1383.4" r="5.9" class="u"/>
<circle cx="427.5" cy="1382.7" r="5.9" class="u"/>
<circle cx="399.2" cy="1388.0" r="5.9" class="u"/>
<circle cx="426.9" cy="1403.3" r="5.9" class="u"/>
<circle cx="465.4" cy="1410.6" r="5.9" class="u"/>
<circle cx="470.0" cy="1415.1" r="5.9" class="u"/>
<circle cx="471.8" cy="1420.8" r="5.9" class="u"/>
<circle cx="433.0" cy="1415.1" r="5.9" class="u"/>
<circle cx="425.0" cy="1414.7" r="5.9" class="u"/>
<circle cx="389.7" cy="1417.9" r="5.9" class="u"/>
<circle cx="396.5" cy="1420.8" r="5.9" class="u"/>
<circle cx="529.3" cy="1419.7" r="5.9" class="u"/>
<circle cx="377.8" cy="1426.5" r="5.9" class="u"/>
<circle cx="417.7" cy="1423.1" r="5.9" class="u"/>
<circle cx="467.0" cy="1429.3" r="5.9" class="u"/>
<circle cx="475.0" cy="1436.1" r="5.9" class="u"/>
<circle cx="483.9" cy="1442.5" r="5.9" class="u"/>
<circle cx="443.5" cy="1434.5" r="5.9" class="u"/>
<circle cx="444.0" cy="1436.1" r="5.9" class="u"/>
<circle cx="502.8" cy="1431.1" r="5.9" class="u"/>
<circle cx="504.0" cy="1432.2" r="5.9" class="u"/>
<circle cx="616.2" cy="1432.9" r="5.9" class="u"/>
<circle cx="378.7" cy="1438.4" r="5.9" class="u"/>
<circle cx="395.8" cy="1447.1" r="5.9" class="u"/>
<circle cx="424.8" cy="1440.4" r="5.9" class="u"/>
<circle cx="473.4" cy="1451.6" r="5.9" class="u"/>
<circle cx="483.9" cy="1456.2" r="5.9" class="u"/>
<circle cx="376.0" cy="1453.9" r="5.9" class="u"/>
<circle cx="375.1" cy="1459.6" r="5.9" class="u"/>
<circle cx="422.7" cy="1458.5" r="5.9" class="u"/>
<circle cx="427.3" cy="1459.6" r="5.9" class="u"/>
<circle cx="439.9" cy="1466.5" r="5.9" class="u"/>
<circle cx="398.3" cy="1469.9" r="5.9" class="u"/>
<circle cx="403.8" cy="1471.0" r="5.9" class="u"/>
<circle cx="419.3" cy="1474.4" r="5.9" class="u"/>
<circle cx="433.0" cy="1477.9" r="5.9" class="u"/>
<circle cx="457.4" cy="1474.4" r="5.9" class="u"/>
<circle cx="470.7" cy="1480.1" r="5.9" class="u"/>
<circle cx="485.5" cy="1473.3" r="5.9" class="u"/>
<circle cx="485.0" cy="1480.1" r="5.9" class="u"/>
<circle cx="496.9" cy="1485.9" r="5.9" class="u"/>
<circle cx="510.1" cy="1493.2" r="5.9" class="u"/>
<circle cx="434.8" cy="1488.1" r="5.9" class="u"/>
<circle cx="408.4" cy="1490.0" r="5.9" class="u"/>
<circle cx="453.6" cy="1485.9" r="5.9" class="u"/>
<circle cx="458.1" cy="1488.1" r="5.9" class="u"/>
<circle cx="587.9" cy="1468.7" r="5.9" class="u"/>
<circle cx="388.1" cy="1496.6" r="5.9" class="u"/>
<circle cx="382.1" cy="1502.5" r="5.9" class="u"/>
<circle cx="485.5" cy="1492.7" r="5.9" class="u"/>
<circle cx="483.7" cy="1497.3" r="5.9" class="u"/>
<circle cx="470.4" cy="1500.0" r="5.9" class="u"/>
<circle cx="486.9" cy="1506.4" r="5.9" class="u"/>
<circle cx="486.9" cy="1517.8" r="5.9" class="u"/>
<circle cx="494.6" cy="1515.5" r="5.9" class="u"/>
<circle cx="495.3" cy="1526.5" r="5.9" class="u"/>
<circle cx="498.5" cy="1535.6" r="5.9" class="u"/>
<circle cx="540.3" cy="1508.0" r="5.9" class="u"/>
<circle cx="539.8" cy="1521.2" r="5.9" class="u"/>
<circle cx="544.4" cy="1533.8" r="5.9" class="u"/>
<circle cx="527.3" cy="1525.8" r="5.9" class="u"/>
<circle cx="565.4" cy="1507.1" r="5.9" class="u"/>
<circle cx="579.5" cy="1505.7" r="5.9" class="u"/>
<circle cx="624.9" cy="1501.8" r="5.9" class="u"/>
<circle cx="373.7" cy="1518.9" r="5.9" class="u"/>
<circle cx="391.9" cy="1517.8" r="5.9" class="u"/>
<circle cx="414.1" cy="1518.3" r="5.9" class="u"/>
<circle cx="438.7" cy="1518.9" r="5.9" class="u"/>
<circle cx="442.6" cy="1512.5" r="5.9" class="u"/>
<circle cx="459.9" cy="1516.7" r="5.9" class="u"/>
<circle cx="407.9" cy="1528.1" r="5.9" class="u"/>
<circle cx="425.7" cy="1529.2" r="5.9" class="u"/>
<circle cx="414.8" cy="1539.5" r="5.9" class="u"/>
<circle cx="388.5" cy="1549.1" r="5.9" class="u"/>
<circle cx="451.3" cy="1547.5" r="5.9" class="u"/>
<circle cx="459.3" cy="1542.9" r="5.9" class="u"/>
<circle cx="493.9" cy="1558.9" r="5.9" class="u"/>
<circle cx="489.4" cy="1565.7" r="5.9" class="u"/>
<circle cx="518.4" cy="1565.0" r="5.9" class="u"/>
<circle cx="445.6" cy="1567.1" r="5.9" class="u"/>
<circle cx="371.4" cy="1566.6" r="5.9" class="u"/>
<circle cx="382.8" cy="1577.1" r="5.9" class="u"/>
<circle cx="387.4" cy="1585.1" r="5.9" class="u"/>
<circle cx="476.8" cy="1580.5" r="5.9" class="u"/>
<circle cx="496.4" cy="1593.6" r="5.9" class="u"/>
<circle cx="274.9" cy="1435.4" r="5.9" class="c"/>
<line x1="82.6" y1="1411.9" x2="646.7" y2="1411.9" stroke="#eb8a8c" stroke-width="4.2" stroke-dasharray="16.7 17.6" stroke-dashoffset="0"/>
<line x1="108.7" y1="1420.3" x2="624.2" y2="1494.3" stroke="#000" stroke-width="2.7"/>
<path d="M 482.5 1584.4 Q 481 1505 454 1477.8" fill="none" stroke="#1a1a1a" stroke-width="2.0"/>
<path d="M 450.8 1487 L 454 1477.8 L 465.4 1481.7" fill="none" stroke="#1a1a1a" stroke-width="2.0"/>
<line x1="82.6" y1="1161.5" x2="82.6" y2="1615.3" stroke="#000" stroke-width="2.2"/>
<line x1="81.6" y1="1614.3" x2="649.7" y2="1614.3" stroke="#000" stroke-width="2.2"/>
<line x1="78.1" y1="1184.4" x2="82.6" y2="1184.4" stroke="#333" stroke-width="2"/>
<text x="73.6" y="1190.6000000000001" font-size="15.8" text-anchor="end" fill="#4d4d4d">400</text>
<line x1="78.1" y1="1298.2" x2="82.6" y2="1298.2" stroke="#333" stroke-width="2"/>
<text x="73.6" y="1304.4" font-size="15.8" text-anchor="end" fill="#4d4d4d">300</text>
<line x1="78.1" y1="1411.6" x2="82.6" y2="1411.6" stroke="#333" stroke-width="2"/>
<text x="73.6" y="1417.8" font-size="15.8" text-anchor="end" fill="#4d4d4d">200</text>
<line x1="78.1" y1="1525.5" x2="82.6" y2="1525.5" stroke="#333" stroke-width="2"/>
<text x="73.6" y="1531.7" font-size="15.8" text-anchor="end" fill="#4d4d4d">100</text>
<line x1="107.7" y1="1614.3" x2="107.7" y2="1618.8" stroke="#333" stroke-width="2"/>
<text x="107.7" y="1634.8" font-size="15.8" text-anchor="middle" fill="#4d4d4d">-10.0</text>
<line x1="247" y1="1614.3" x2="247" y2="1618.8" stroke="#333" stroke-width="2"/>
<text x="247" y="1634.8" font-size="15.8" text-anchor="middle" fill="#4d4d4d">-7.5</text>
<line x1="386" y1="1614.3" x2="386" y2="1618.8" stroke="#333" stroke-width="2"/>
<text x="386" y="1634.8" font-size="15.8" text-anchor="middle" fill="#4d4d4d">-5.0</text>
<line x1="525.3" y1="1614.3" x2="525.3" y2="1618.8" stroke="#333" stroke-width="2"/>
<text x="525.3" y="1634.8" font-size="15.8" text-anchor="middle" fill="#4d4d4d">-2.5</text>
<text x="360.9" y="1665.8" font-size="30" text-anchor="middle">ESM1b score</text>
<text transform="translate(28.8,1398.9) rotate(-90) scale(0.903,1)" font-size="30" text-anchor="middle">Mean triglycerides (mg/dL)</text>
<text x="290.66" y="1544" font-size="26.2" fill="#1a1a1a">n<tspan font-size="15.1" dy="8.8">individuals</tspan><tspan dy="-8.8">=33,035</tspan></text>
<text x="290.66" y="1575.9" font-size="26.2" fill="#1a1a1a">n<tspan font-size="15.1" dy="8.8">missense</tspan><tspan dy="-8.8">=137</tspan></text>
<text x="290.66" y="1607.8" font-size="26.2" fill="#1a1a1a"><tspan font-style="italic">r</tspan>=-0.19, <tspan font-style="italic">p</tspan>=0.017</text>
<text x="830.4" y="1143" font-size="30" font-weight="bold">F.</text>
<text x="897" y="1143" font-size="30"><tspan font-weight="bold">UK Biobank</tspan>: <tspan font-style="italic">LPL</tspan> single missense variant carriers</text>
<circle cx="952.5" cy="1208.4" r="5.9" class="u"/>
<circle cx="1138.9" cy="1224.6" r="5.9" class="u"/>
<circle cx="1166.5" cy="1244.9" r="5.9" class="u"/>
<circle cx="1156.9" cy="1261.1" r="5.9" class="u"/>
<circle cx="1099.2" cy="1276.6" r="5.9" class="u"/>
<circle cx="1099.9" cy="1304.0" r="5.9" class="u"/>
<circle cx="1030.5" cy="1303.3" r="5.9" class="u"/>
<circle cx="1035.1" cy="1300.6" r="5.9" class="u"/>
<circle cx="984.0" cy="1347.6" r="5.9" class="u"/>
<circle cx="929.4" cy="1375.2" r="5.9" class="u"/>
<circle cx="1164.2" cy="1364.0" r="5.9" class="u"/>
<circle cx="1182.5" cy="1367.9" r="5.9" class="u"/>
<circle cx="1182.9" cy="1352.6" r="5.9" class="u"/>
<circle cx="1178.4" cy="1396.4" r="5.9" class="u"/>
<circle cx="1184.5" cy="1396.4" r="5.9" class="u"/>
<circle cx="1157.8" cy="1410.1" r="5.9" class="u"/>
<circle cx="1170.4" cy="1415.1" r="5.9" class="u"/>
<circle cx="1064.3" cy="1410.6" r="5.9" class="u"/>
<circle cx="1123.6" cy="1419.2" r="5.9" class="u"/>
<circle cx="1025.0" cy="1429.5" r="5.9" class="u"/>
<circle cx="1023.9" cy="1431.1" r="5.9" class="u"/>
<circle cx="1021.4" cy="1438.0" r="5.9" class="u"/>
<circle cx="1061.1" cy="1448.9" r="5.9" class="u"/>
<circle cx="1110.1" cy="1442.5" r="5.9" class="u"/>
<circle cx="1109.2" cy="1460.8" r="5.9" class="u"/>
<circle cx="1092.4" cy="1467.8" r="5.9" class="u"/>
<circle cx="1138.9" cy="1477.0" r="5.9" class="u"/>
<circle cx="1138.4" cy="1490.0" r="5.9" class="u"/>
<circle cx="1142.3" cy="1492.3" r="5.9" class="u"/>
<circle cx="1183.6" cy="1492.3" r="5.9" class="u"/>
<circle cx="1067.3" cy="1494.1" r="5.9" class="u"/>
<circle cx="1001.1" cy="1504.4" r="5.9" class="u"/>
<circle cx="1095.1" cy="1507.8" r="5.9" class="u"/>
<circle cx="1105.6" cy="1515.1" r="5.9" class="u"/>
<circle cx="1077.3" cy="1524.2" r="5.9" class="u"/>
<circle cx="1133.9" cy="1516.9" r="5.9" class="u"/>
<circle cx="1155.6" cy="1508.2" r="5.9" class="u"/>
<circle cx="1163.5" cy="1515.1" r="5.9" class="u"/>
<circle cx="1178.4" cy="1512.1" r="5.9" class="u"/>
<circle cx="1181.8" cy="1525.6" r="5.9" class="u"/>
<circle cx="1135.0" cy="1541.3" r="5.9" class="u"/>
<circle cx="1189.8" cy="1540.2" r="5.9" class="u"/>
<circle cx="1092.8" cy="1563.5" r="5.9" class="u"/>
<circle cx="1160.1" cy="1566.0" r="5.9" class="u"/>
<circle cx="1282.2" cy="1178.8" r="5.9" class="u"/>
<circle cx="1304.4" cy="1245.8" r="5.9" class="u"/>
<circle cx="1308.2" cy="1246.3" r="5.9" class="u"/>
<circle cx="1326.5" cy="1246.5" r="5.9" class="u"/>
<circle cx="1305.0" cy="1284.6" r="5.9" class="u"/>
<circle cx="1296.8" cy="1316.3" r="5.9" class="u"/>
<circle cx="1326.0" cy="1315.9" r="5.9" class="u"/>
<circle cx="1354.8" cy="1329.1" r="5.9" class="u"/>
<circle cx="1318.7" cy="1342.8" r="5.9" class="u"/>
<circle cx="1292.7" cy="1351.0" r="5.9" class="u"/>
<circle cx="1253.2" cy="1346.2" r="5.9" class="u"/>
<circle cx="1263.3" cy="1345.8" r="5.9" class="u"/>
<circle cx="1190.7" cy="1353.5" r="5.9" class="u"/>
<circle cx="1213.1" cy="1360.4" r="5.9" class="u"/>
<circle cx="1209.2" cy="1363.3" r="5.9" class="u"/>
<circle cx="1204.0" cy="1366.3" r="5.9" class="u"/>
<circle cx="1256.0" cy="1370.6" r="5.9" class="u"/>
<circle cx="1255.3" cy="1377.7" r="5.9" class="u"/>
<circle cx="1446.3" cy="1385.0" r="5.9" class="u"/>
<circle cx="1355.2" cy="1391.9" r="5.9" class="u"/>
<circle cx="1221.8" cy="1396.4" r="5.9" class="u"/>
<circle cx="1221.8" cy="1405.6" r="5.9" class="u"/>
<circle cx="1226.8" cy="1412.4" r="5.9" class="u"/>
<circle cx="1256.0" cy="1404.4" r="5.9" class="u"/>
<circle cx="1238.4" cy="1423.1" r="5.9" class="u"/>
<circle cx="1209.4" cy="1432.3" r="5.9" class="u"/>
<circle cx="1299.8" cy="1419.9" r="5.9" class="u"/>
<circle cx="1306.9" cy="1415.8" r="5.9" class="u"/>
<circle cx="1315.8" cy="1427.5" r="5.9" class="u"/>
<circle cx="1343.1" cy="1420.4" r="5.9" class="u"/>
<circle cx="1371.7" cy="1420.4" r="5.9" class="u"/>
<circle cx="1281.5" cy="1425.0" r="5.9" class="u"/>
<circle cx="1280.4" cy="1434.1" r="5.9" class="u"/>
<circle cx="1289.1" cy="1434.1" r="5.9" class="u"/>
<circle cx="1299.6" cy="1443.2" r="5.9" class="u"/>
<circle cx="1315.8" cy="1447.8" r="5.9" class="u"/>
<circle cx="1324.9" cy="1439.3" r="5.9" class="u"/>
<circle cx="1351.6" cy="1441.4" r="5.9" class="u"/>
<circle cx="1396.8" cy="1443.7" r="5.9" class="u"/>
<circle cx="1390.4" cy="1454.2" r="5.9" class="u"/>
<circle cx="1254.8" cy="1442.1" r="5.9" class="u"/>
<circle cx="1271.3" cy="1453.0" r="5.9" class="u"/>
<circle cx="1251.4" cy="1457.6" r="5.9" class="u"/>
<circle cx="1197.1" cy="1461.5" r="5.9" class="u"/>
<circle cx="1210.8" cy="1469.9" r="5.9" class="u"/>
<circle cx="1192.5" cy="1474.2" r="5.9" class="u"/>
<circle cx="1229.7" cy="1473.3" r="5.9" class="u"/>
<circle cx="1233.6" cy="1479.7" r="5.9" class="u"/>
<circle cx="1263.3" cy="1471.7" r="5.9" class="u"/>
<circle cx="1290.0" cy="1472.9" r="5.9" class="u"/>
<circle cx="1305.5" cy="1467.2" r="5.9" class="u"/>
<circle cx="1327.2" cy="1469.4" r="5.9" class="u"/>
<circle cx="1300.9" cy="1478.6" r="5.9" class="u"/>
<circle cx="1311.9" cy="1480.9" r="5.9" class="u"/>
<circle cx="1321.5" cy="1476.3" r="5.9" class="u"/>
<circle cx="1327.2" cy="1483.1" r="5.9" class="u"/>
<circle cx="1367.6" cy="1461.5" r="5.9" class="u"/>
<circle cx="1378.1" cy="1461.9" r="5.9" class="u"/>
<circle cx="1423.7" cy="1461.5" r="5.9" class="u"/>
<circle cx="1237.7" cy="1488.8" r="5.9" class="u"/>
<circle cx="1256.0" cy="1490.0" r="5.9" class="u"/>
<circle cx="1274.7" cy="1490.0" r="5.9" class="u"/>
<circle cx="1291.8" cy="1492.3" r="5.9" class="u"/>
<circle cx="1304.4" cy="1490.0" r="5.9" class="u"/>
<circle cx="1316.9" cy="1494.5" r="5.9" class="u"/>
<circle cx="1199.4" cy="1500.2" r="5.9" class="u"/>
<circle cx="1205.1" cy="1503.7" r="5.9" class="u"/>
<circle cx="1215.4" cy="1508.2" r="5.9" class="u"/>
<circle cx="1224.5" cy="1503.7" r="5.9" class="u"/>
<circle cx="1232.0" cy="1509.8" r="5.9" class="u"/>
<circle cx="1241.6" cy="1503.7" r="5.9" class="u"/>
<circle cx="1261.0" cy="1501.4" r="5.9" class="u"/>
<circle cx="1266.7" cy="1510.5" r="5.9" class="u"/>
<circle cx="1283.8" cy="1509.4" r="5.9" class="u"/>
<circle cx="1288.4" cy="1504.4" r="5.9" class="u"/>
<circle cx="1208.5" cy="1513.9" r="5.9" class="u"/>
<circle cx="1343.1" cy="1507.8" r="5.9" class="u"/>
<circle cx="1339.7" cy="1518.5" r="5.9" class="u"/>
<circle cx="1368.9" cy="1518.5" r="5.9" class="u"/>
<circle cx="1442.4" cy="1527.6" r="5.9" class="u"/>
<circle cx="1321.5" cy="1524.2" r="5.9" class="u"/>
<circle cx="1300.9" cy="1519.6" r="5.9" class="u"/>
<circle cx="1280.4" cy="1523.1" r="5.9" class="u"/>
<circle cx="1217.6" cy="1528.8" r="5.9" class="u"/>
<circle cx="1225.6" cy="1524.2" r="5.9" class="u"/>
<circle cx="1200.5" cy="1539.0" r="5.9" class="u"/>
<circle cx="1190.3" cy="1537.9" r="5.9" class="u"/>
<circle cx="1209.7" cy="1537.9" r="5.9" class="u"/>
<circle cx="1256.4" cy="1548.2" r="5.9" class="u"/>
<circle cx="1340.9" cy="1534.0" r="5.9" class="u"/>
<circle cx="1354.8" cy="1545.2" r="5.9" class="u"/>
<circle cx="1315.3" cy="1561.2" r="5.9" class="u"/>
<circle cx="1364.4" cy="1562.3" r="5.9" class="u"/>
<circle cx="1249.1" cy="1569.8" r="5.9" class="u"/>
<circle cx="1219.9" cy="1582.8" r="5.9" class="u"/>
<circle cx="1317.8" cy="1581.2" r="5.9" class="u"/>
<circle cx="1326.5" cy="1582.8" r="5.9" class="u"/>
<circle cx="1312.3" cy="1593.8" r="5.9" class="u"/>
<circle cx="1141.5" cy="1492.1" r="5.9" class="u"/>
<circle cx="1155.3" cy="1508.6" r="5.9" class="u"/>
<circle cx="1199.2" cy="1500.9" r="5.9" class="u"/>
<circle cx="1274.5" cy="1489.9" r="5.9" class="u"/>
<circle cx="997.7" cy="1284.6" r="5.9" class="c"/>
<circle cx="1040.3" cy="1292.2" r="5.9" class="c"/>
<circle cx="1125.0" cy="1261.3" r="5.9" class="c"/>
<circle cx="1106.5" cy="1386.6" r="5.9" class="c"/>
<circle cx="1187.5" cy="1414.7" r="5.9" class="c"/>
<circle cx="1016.1" cy="1478.6" r="5.9" class="c"/>
<circle cx="1154.4" cy="1491.8" r="5.9" class="c"/>
<circle cx="1208.3" cy="1346.9" r="5.9" class="c"/>
<circle cx="1230.0" cy="1375.2" r="5.9" class="c"/>
<circle cx="1360.3" cy="1394.1" r="5.9" class="c"/>
<circle cx="1254.6" cy="1474.0" r="5.9" class="c"/>
<circle cx="1239.8" cy="1576.0" r="5.9" class="c"/>
<line x1="903.5" y1="1406.9" x2="1467.5" y2="1406.9" stroke="#eb8a8c" stroke-width="4.2" stroke-dasharray="16.7 17.6" stroke-dashoffset="0"/>
<line x1="930.3" y1="1393" x2="1445.8" y2="1485.4" stroke="#000" stroke-width="2.7"/>
<path d="M 1316.2 1575.5 Q 1313 1490 1288.4 1464.4" fill="none" stroke="#1a1a1a" stroke-width="2.0"/>
<path d="M 1283.8 1474 L 1288.4 1464.4 L 1298.2 1466" fill="none" stroke="#1a1a1a" stroke-width="2.0"/>
<line x1="903.5" y1="1158.5" x2="903.5" y2="1613" stroke="#000" stroke-width="2.2"/>
<line x1="902.5" y1="1612" x2="1470.5" y2="1612" stroke="#000" stroke-width="2.2"/>
<line x1="899.0" y1="1278.9" x2="903.5" y2="1278.9" stroke="#333" stroke-width="2"/>
<text x="894.5" y="1285.1000000000001" font-size="15.8" text-anchor="end" fill="#4d4d4d">300</text>
<line x1="899.0" y1="1406.8" x2="903.5" y2="1406.8" stroke="#333" stroke-width="2"/>
<text x="894.5" y="1413.0" font-size="15.8" text-anchor="end" fill="#4d4d4d">200</text>
<line x1="899.0" y1="1535.2" x2="903.5" y2="1535.2" stroke="#333" stroke-width="2"/>
<text x="894.5" y="1541.4" font-size="15.8" text-anchor="end" fill="#4d4d4d">100</text>
<line x1="1009.9" y1="1612" x2="1009.9" y2="1616.5" stroke="#333" stroke-width="2"/>
<text x="1009.9" y="1632.5" font-size="15.8" text-anchor="middle" fill="#4d4d4d">-15</text>
<line x1="1151.9" y1="1612" x2="1151.9" y2="1616.5" stroke="#333" stroke-width="2"/>
<text x="1151.9" y="1632.5" font-size="15.8" text-anchor="middle" fill="#4d4d4d">-10</text>
<line x1="1291.6" y1="1612" x2="1291.6" y2="1616.5" stroke="#333" stroke-width="2"/>
<text x="1291.6" y="1632.5" font-size="15.8" text-anchor="middle" fill="#4d4d4d">-5</text>
<line x1="1432.3" y1="1612" x2="1432.3" y2="1616.5" stroke="#333" stroke-width="2"/>
<text x="1432.3" y="1632.5" font-size="15.8" text-anchor="middle" fill="#4d4d4d">0</text>
<text x="1203.8" y="1665.8" font-size="30" text-anchor="middle">ESM1b score</text>
<text x="1125.76" y="1543.5" font-size="26.2" fill="#1a1a1a">n<tspan font-size="15.1" dy="8.8">individuals</tspan><tspan dy="-8.8">=12,953</tspan></text>
<text x="1125.76" y="1575.2" font-size="26.2" fill="#1a1a1a">n<tspan font-size="15.1" dy="8.8">missense</tspan><tspan dy="-8.8">=172</tspan></text>
<text x="1125.76" y="1607" font-size="26.2" fill="#1a1a1a"><tspan font-style="italic">r</tspan>=-0.19, <tspan font-style="italic">p</tspan>=0.014</text>
<text x="-1.2" y="1701.6" font-size="30" font-weight="bold">G.</text>
<text x="73.6" y="1701.6" font-size="30"><tspan font-weight="bold">UK Biobank</tspan>: <tspan font-style="italic">GCK</tspan> single missense variant carriers</text>
<circle cx="317.4" cy="1729.7" r="5.4" class="u"/>
<circle cx="209.4" cy="1762.7" r="5.4" class="u"/>
<circle cx="121.1" cy="1782.1" r="5.4" class="u"/>
<circle cx="222.9" cy="1801.8" r="5.4" class="u"/>
<circle cx="216.5" cy="1812.0" r="5.4" class="u"/>
<circle cx="274.0" cy="1834.9" r="5.4" class="u"/>
<circle cx="290.4" cy="1854.5" r="5.4" class="u"/>
<circle cx="269.0" cy="1866.8" r="5.4" class="u"/>
<circle cx="279.9" cy="1866.8" r="5.4" class="u"/>
<circle cx="180.2" cy="1869.3" r="5.4" class="u"/>
<circle cx="107.2" cy="1898.7" r="5.4" class="u"/>
<circle cx="138.2" cy="1933.9" r="5.4" class="u"/>
<circle cx="134.4" cy="1948.7" r="5.4" class="u"/>
<circle cx="199.6" cy="1940.0" r="5.4" class="u"/>
<circle cx="220.6" cy="1948.7" r="5.4" class="u"/>
<circle cx="233.8" cy="1941.4" r="5.4" class="u"/>
<circle cx="236.8" cy="1931.6" r="5.4" class="u"/>
<circle cx="260.5" cy="1946.4" r="5.4" class="u"/>
<circle cx="235.7" cy="1957.2" r="5.4" class="u"/>
<circle cx="321.7" cy="1957.8" r="5.4" class="u"/>
<circle cx="324.9" cy="1965.1" r="5.4" class="u"/>
<circle cx="112.7" cy="1976.1" r="5.4" class="u"/>
<circle cx="260.5" cy="1984.5" r="5.4" class="u"/>
<circle cx="274.7" cy="1983.6" r="5.4" class="u"/>
<circle cx="233.2" cy="2002.3" r="5.4" class="u"/>
<circle cx="237.3" cy="2000.0" r="5.4" class="u"/>
<circle cx="222.9" cy="2014.4" r="5.4" class="u"/>
<circle cx="259.2" cy="2013.7" r="5.4" class="u"/>
<circle cx="259.2" cy="2016.0" r="5.4" class="u"/>
<circle cx="287.9" cy="2013.7" r="5.4" class="u"/>
<circle cx="302.3" cy="2010.3" r="5.4" class="u"/>
<circle cx="364.4" cy="2001.6" r="5.4" class="u"/>
<circle cx="328.3" cy="2028.6" r="5.4" class="u"/>
<circle cx="206.9" cy="2051.8" r="5.4" class="u"/>
<circle cx="264.6" cy="2045.0" r="5.4" class="u"/>
<circle cx="276.7" cy="2048.0" r="5.4" class="u"/>
<circle cx="267.2" cy="2062.8" r="5.4" class="u"/>
<circle cx="284.5" cy="2066.9" r="5.4" class="u"/>
<circle cx="277.0" cy="2081.7" r="5.4" class="u"/>
<circle cx="360.5" cy="2058.7" r="5.4" class="u"/>
<circle cx="299.3" cy="2110.0" r="5.4" class="u"/>
<circle cx="346.1" cy="2121.7" r="5.4" class="u"/>
<circle cx="282.4" cy="2137.6" r="5.4" class="u"/>
<circle cx="386.8" cy="1789.9" r="5.4" class="u"/>
<circle cx="482.1" cy="1866.6" r="5.4" class="u"/>
<circle cx="475.1" cy="1895.8" r="5.4" class="u"/>
<circle cx="404.8" cy="1921.8" r="5.4" class="u"/>
<circle cx="419.8" cy="1940.0" r="5.4" class="u"/>
<circle cx="373.1" cy="1964.7" r="5.4" class="u"/>
<circle cx="442.4" cy="1978.8" r="5.4" class="u"/>
<circle cx="414.6" cy="1982.3" r="5.4" class="u"/>
<circle cx="413.4" cy="1992.5" r="5.4" class="u"/>
<circle cx="373.1" cy="2010.3" r="5.4" class="u"/>
<circle cx="473.7" cy="2003.5" r="5.4" class="u"/>
<circle cx="496.0" cy="2008.0" r="5.4" class="u"/>
<circle cx="497.9" cy="2026.3" r="5.4" class="u"/>
<circle cx="428.3" cy="2017.2" r="5.4" class="u"/>
<circle cx="426.5" cy="2027.0" r="5.4" class="u"/>
<circle cx="457.0" cy="2030.2" r="5.4" class="u"/>
<circle cx="440.1" cy="2041.8" r="5.4" class="u"/>
<circle cx="630.2" cy="2057.1" r="5.4" class="u"/>
<circle cx="449.3" cy="2073.5" r="5.4" class="u"/>
<circle cx="520.5" cy="2102.0" r="5.4" class="u"/>
<circle cx="219.9" cy="1756.8" r="5.4" class="n"/>
<circle cx="206.2" cy="1809.5" r="5.4" class="n"/>
<circle cx="182.5" cy="1818.2" r="5.4" class="n"/>
<circle cx="207.1" cy="1828.5" r="5.4" class="n"/>
<circle cx="144.4" cy="1831.9" r="5.4" class="n"/>
<circle cx="258.9" cy="1832.3" r="5.4" class="n"/>
<circle cx="113.6" cy="1851.5" r="5.4" class="n"/>
<circle cx="347.2" cy="1886.6" r="5.4" class="n"/>
<circle cx="301.4" cy="1914.5" r="5.4" class="n"/>
<circle cx="239.5" cy="1923.6" r="5.4" class="n"/>
<circle cx="207.4" cy="1928.2" r="5.4" class="n"/>
<circle cx="262.8" cy="1940.0" r="5.4" class="n"/>
<circle cx="280.6" cy="1939.6" r="5.4" class="n"/>
<circle cx="239.5" cy="1950.5" r="5.4" class="n"/>
<circle cx="269.0" cy="1963.5" r="5.4" class="n"/>
<circle cx="195.5" cy="1970.2" r="5.4" class="n"/>
<circle cx="402.5" cy="1912.9" r="5.4" class="n"/>
<line x1="81.3" y1="1842.1" x2="652" y2="1842.1" stroke="#eb8a8c" stroke-width="4.2" stroke-dasharray="16.7 17.6" stroke-dashoffset="0"/>
<line x1="107.2" y1="1890" x2="629.5" y2="2059.8" stroke="#000" stroke-width="2.7"/>
<path d="M 470.9 2122.1 Q 470 2040 460.7 2011.4" fill="none" stroke="#1a1a1a" stroke-width="2.0"/>
<path d="M 458.4 2022.8 L 460.7 2011.4 L 470.5 2017.1" fill="none" stroke="#1a1a1a" stroke-width="2.0"/>
<line x1="81.3" y1="1709.7" x2="81.3" y2="2165.6" stroke="#000" stroke-width="2.2"/>
<line x1="80.3" y1="2164.6" x2="655" y2="2164.6" stroke="#000" stroke-width="2.2"/>
<line x1="76.8" y1="1760.2" x2="81.3" y2="1760.2" stroke="#333" stroke-width="2"/>
<text x="72.3" y="1766.4" font-size="15.8" text-anchor="end" fill="#4d4d4d">7.0</text>
<line x1="76.8" y1="1842" x2="81.3" y2="1842" stroke="#333" stroke-width="2"/>
<text x="72.3" y="1848.2" font-size="15.8" text-anchor="end" fill="#4d4d4d">6.5</text>
<line x1="76.8" y1="1924.2" x2="81.3" y2="1924.2" stroke="#333" stroke-width="2"/>
<text x="72.3" y="1930.4" font-size="15.8" text-anchor="end" fill="#4d4d4d">6.0</text>
<line x1="76.8" y1="2006" x2="81.3" y2="2006" stroke="#333" stroke-width="2"/>
<text x="72.3" y="2012.2" font-size="15.8" text-anchor="end" fill="#4d4d4d">5.5</text>
<line x1="76.8" y1="2088.1" x2="81.3" y2="2088.1" stroke="#333" stroke-width="2"/>
<text x="72.3" y="2094.2999999999997" font-size="15.8" text-anchor="end" fill="#4d4d4d">5.0</text>
<line x1="109" y1="2164.6" x2="109" y2="2169.1" stroke="#333" stroke-width="2"/>
<text x="109" y="2185.1" font-size="15.8" text-anchor="middle" fill="#4d4d4d">-15</text>
<line x1="259.3" y1="2164.6" x2="259.3" y2="2169.1" stroke="#333" stroke-width="2"/>
<text x="259.3" y="2185.1" font-size="15.8" text-anchor="middle" fill="#4d4d4d">-10</text>
<line x1="408.8" y1="2164.6" x2="408.8" y2="2169.1" stroke="#333" stroke-width="2"/>
<text x="408.8" y="2185.1" font-size="15.8" text-anchor="middle" fill="#4d4d4d">-5</text>
<line x1="558.2" y1="2164.6" x2="558.2" y2="2169.1" stroke="#333" stroke-width="2"/>
<text x="558.2" y="2185.1" font-size="15.8" text-anchor="middle" fill="#4d4d4d">0</text>
<text x="363.3" y="2214.5" font-size="30" text-anchor="middle">ESM1b score</text>
<text transform="translate(28.8,1939.7) rotate(-90) scale(0.928,1)" font-size="30" text-anchor="middle">Mean HbA1c (%)</text>
<text x="319.46" y="2087" font-size="26.2" fill="#1a1a1a">n<tspan font-size="15.1" dy="8.8">individuals</tspan><tspan dy="-8.8">=401</tspan></text>
<text x="319.46" y="2118.7" font-size="26.2" fill="#1a1a1a">n<tspan font-size="15.1" dy="8.8">missense</tspan><tspan dy="-8.8">=81</tspan></text>
<text x="319.46" y="2150.3" font-size="26.2" fill="#1a1a1a"><tspan font-style="italic">r</tspan>=-0.29, <tspan font-style="italic">p</tspan>=7.70E-03</text>
<text x="1649.6" y="238.8" font-size="30" font-weight="bold">Figure 3 A &amp; B legend</text>
<circle cx="1625.8" cy="261.5" r="13.2" fill="rgb(122,122,184)" stroke="rgb(58,58,158)" stroke-width="1.6"/>
<text x="1649.6" y="274.9" font-size="30">Curated Obesity</text>
<circle cx="1625.8" cy="298.4" r="13.2" fill="rgb(130,201,231)" stroke="rgb(92,190,230)" stroke-width="1.6"/>
<text x="1649.6" y="310.8" font-size="30">ClinVar LP/P-strong</text>
<circle cx="1625.8" cy="335.4" r="13.2" fill="rgb(226,134,180)" stroke="rgb(218,72,150)" stroke-width="1.6"/>
<text x="1649.6" y="346.8" font-size="30">Protective Against Obesity</text>
<circle cx="1625.8" cy="372.4" r="13.2" fill="rgb(221,221,221)" stroke="rgb(204,204,206)" stroke-width="1.6"/>
<text x="1649.6" y="382.8" font-size="30">Unknown</text>
<rect x="1606.1" y="402.15" width="37.90000000000009" height="9.7" fill="#eb8f91"/>
<text x="1649.6" y="418.6" font-size="30">Obesity BMI threshold</text>
<text x="1630.5" y="805.2" font-size="30" font-weight="bold">Figure 3 C &amp; D legend</text>
<circle cx="1606.8" cy="829" r="13.2" fill="rgb(122,122,184)" stroke="rgb(58,58,158)" stroke-width="1.6"/>
<text x="1631" y="841.3" font-size="30">Curated High LDL</text>
<circle cx="1606.8" cy="865.6" r="13.2" fill="rgb(130,201,231)" stroke="rgb(92,190,230)" stroke-width="1.6"/>
<text x="1631" y="877.4" font-size="30">ClinVar LP/P-strong</text>
<circle cx="1606.8" cy="905.6" r="13.2" fill="rgb(221,221,221)" stroke="rgb(204,204,206)" stroke-width="1.6"/>
<text x="1631" y="913.5" font-size="30">Unknown</text>
<rect x="1586.9" y="935.55" width="38.09999999999991" height="9.7" fill="#eb8f91"/>
<text x="1631" y="949.6" font-size="30">High LDL threshold</text>
<text x="1624.5" y="1323.7" font-size="30" font-weight="bold">Figure 3 E &amp; F legend</text>
<circle cx="1601" cy="1347.5" r="13.2" fill="rgb(122,122,184)" stroke="rgb(58,58,158)" stroke-width="1.6"/>
<text x="1625" y="1359.6" font-size="30">Curated High Triglycerides</text>
<circle cx="1601" cy="1384.4" r="13.2" fill="rgb(130,201,231)" stroke="rgb(92,190,230)" stroke-width="1.6"/>
<text x="1625" y="1395.4" font-size="30">ClinVar LP/P-strong</text>
<circle cx="1601" cy="1424.4" r="13.2" fill="rgb(221,221,221)" stroke="rgb(204,204,206)" stroke-width="1.6"/>
<text x="1625" y="1431.6" font-size="30">Unknown</text>
<rect x="1581.9" y="1454.15" width="36.899999999999864" height="9.7" fill="#eb8f91"/>
<text x="1625" y="1467.7" font-size="30">High triglycerides threshold</text>
<text x="836" y="1835.9" font-size="30" font-weight="bold">Figure 3 G legend</text>
<circle cx="811.2" cy="1863.9" r="13.2" fill="rgb(122,122,184)" stroke="rgb(58,58,158)" stroke-width="1.6"/>
<text x="836.5" y="1871.8" font-size="30">Curated MODY</text>
<circle cx="811.2" cy="1903.5" r="13.2" fill="rgb(221,221,221)" stroke="rgb(204,204,206)" stroke-width="1.6"/>
<text x="836.5" y="1907.7" font-size="30">Unknown</text>
<rect x="791.9" y="1933.75" width="38.10000000000002" height="9.7" fill="#eb8f91"/>
<text x="836.5" y="1943.7" font-size="30">Diabetes HbA1c threshold</text>
</svg>
</body></html>
